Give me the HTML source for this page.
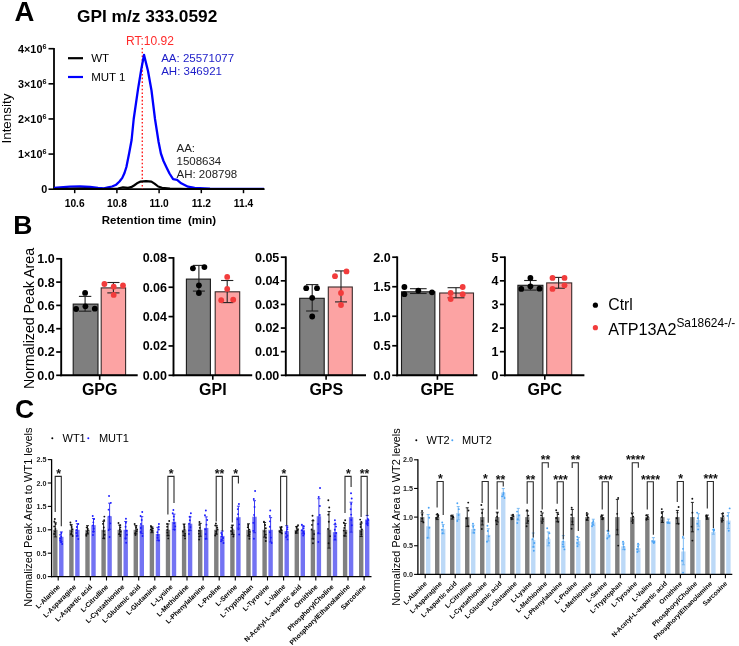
<!DOCTYPE html>
<html><head><meta charset="utf-8"><style>
html,body{margin:0;padding:0;background:#fff;width:739px;height:646px;overflow:hidden}
svg{display:block;filter:blur(0.3px)}
</style></head><body>
<svg width="739" height="646" viewBox="0 0 739 646" font-family="Liberation Sans, sans-serif">
<rect width="739" height="646" fill="#fff"/>
<text x="14.60" y="20.60" font-size="27.5" font-weight="bold" fill="#000" text-anchor="start" >A</text>
<text x="77.00" y="22.20" font-size="17.3" font-weight="bold" fill="#000" text-anchor="start" >GPI m/z 333.0592</text>
<line x1="54.00" y1="47.90" x2="54.00" y2="190.00" stroke="#000" stroke-width="1.8" />
<line x1="48.50" y1="189.20" x2="54.00" y2="189.20" stroke="#000" stroke-width="1.6" />
<text x="47.20" y="193.20" font-size="10.8" font-weight="bold" fill="#000" text-anchor="end" >0</text>
<line x1="48.50" y1="154.07" x2="54.00" y2="154.07" stroke="#000" stroke-width="1.6" />
<text x="46.4" y="158.07" font-size="10.8" font-weight="bold" text-anchor="end">1×10<tspan font-size="7.2" dy="-4.2">6</tspan></text>
<line x1="48.50" y1="118.95" x2="54.00" y2="118.95" stroke="#000" stroke-width="1.6" />
<text x="46.4" y="122.95" font-size="10.8" font-weight="bold" text-anchor="end">2×10<tspan font-size="7.2" dy="-4.2">6</tspan></text>
<line x1="48.50" y1="83.82" x2="54.00" y2="83.82" stroke="#000" stroke-width="1.6" />
<text x="46.4" y="87.82" font-size="10.8" font-weight="bold" text-anchor="end">3×10<tspan font-size="7.2" dy="-4.2">6</tspan></text>
<line x1="48.50" y1="48.70" x2="54.00" y2="48.70" stroke="#000" stroke-width="1.6" />
<text x="46.4" y="52.70" font-size="10.8" font-weight="bold" text-anchor="end">4×10<tspan font-size="7.2" dy="-4.2">6</tspan></text>
<line x1="53.40" y1="189.20" x2="264.60" y2="189.20" stroke="#000" stroke-width="1.8" />
<line x1="74.70" y1="189.20" x2="74.70" y2="193.20" stroke="#000" stroke-width="1.5" />
<text x="74.70" y="206.60" font-size="10.2" font-weight="bold" fill="#000" text-anchor="middle" >10.6</text>
<line x1="116.90" y1="189.20" x2="116.90" y2="193.20" stroke="#000" stroke-width="1.5" />
<text x="116.90" y="206.60" font-size="10.2" font-weight="bold" fill="#000" text-anchor="middle" >10.8</text>
<line x1="159.10" y1="189.20" x2="159.10" y2="193.20" stroke="#000" stroke-width="1.5" />
<text x="159.10" y="206.60" font-size="10.2" font-weight="bold" fill="#000" text-anchor="middle" >11.0</text>
<line x1="201.30" y1="189.20" x2="201.30" y2="193.20" stroke="#000" stroke-width="1.5" />
<text x="201.30" y="206.60" font-size="10.2" font-weight="bold" fill="#000" text-anchor="middle" >11.2</text>
<line x1="243.50" y1="189.20" x2="243.50" y2="193.20" stroke="#000" stroke-width="1.5" />
<text x="243.50" y="206.60" font-size="10.2" font-weight="bold" fill="#000" text-anchor="middle" >11.4</text>
<text x="101.70" y="223.70" font-size="11.5" font-weight="bold" fill="#000" text-anchor="start" xml:space="preserve">Retention time  (min)</text>
<text x="0.00" y="0.00" font-size="13.4"  fill="#000" text-anchor="middle" transform="translate(11.1,118.6) rotate(-90)">Intensity</text>
<line x1="68.00" y1="58.20" x2="83.00" y2="58.20" stroke="#000" stroke-width="2.2" />
<text x="91.20" y="62.30" font-size="11.5"  fill="#000" text-anchor="start" >WT</text>
<line x1="68.00" y1="77.00" x2="83.00" y2="77.00" stroke="#0000ff" stroke-width="2.2" />
<text x="91.20" y="80.80" font-size="11.5"  fill="#000" text-anchor="start" >MUT 1</text>
<line x1="142.30" y1="48.00" x2="142.30" y2="189.00" stroke="#ff2020" stroke-width="1.4" stroke-dasharray="1.6,2.1"/>
<text x="126.00" y="44.80" font-size="12"  fill="#ff2a2a" text-anchor="start" >RT:10.92</text>
<text x="161.20" y="61.80" font-size="11.5"  fill="#1c1cc8" text-anchor="start" >AA: 25571077</text>
<text x="161.20" y="75.10" font-size="11.5"  fill="#1c1cc8" text-anchor="start" >AH: 346921</text>
<text x="176.50" y="152.00" font-size="11.5"  fill="#222" text-anchor="start" >AA:</text>
<text x="176.50" y="165.00" font-size="11.5"  fill="#222" text-anchor="start" >1508634</text>
<text x="176.50" y="178.00" font-size="11.5"  fill="#222" text-anchor="start" >AH: 208798</text>
<polyline fill="none" stroke="#0000ff" stroke-width="2.3" stroke-linejoin="round" points="54,188 60,187.3 70,186.6 80,186.5 90,187 98,188 104,188.4 108.1,187.4 112,186.5 116.2,184.7 119.5,181.5 122.3,177.9 124.5,173 126.4,167 129.1,153.5 131.6,140 133.7,119 138.1,88.7 141.3,69.2 144,54.9 148,71 151.5,90.5 155,119 158.6,142 160.9,153.5 163.5,161 166.3,167 169.5,173.5 173.1,179.2 177.1,179.9 181.2,183.3 188,186.7 194.7,187.8 210,188.6 230,188.8 264,188.8"/>
<polyline fill="none" stroke="#000" stroke-width="2.2" stroke-linejoin="round" points="54,189 80,188.5 100,189 118,188.6 123,187.3 128,187.8 131.1,187.2 134,185.5 137,183.3 140.6,181.6 146,181.2 151.4,181.6 154.5,183.6 158.2,186.5 162,187.8 170,188.5 190,189 264,189"/>
<text x="13.20" y="234.40" font-size="26.5" font-weight="bold" fill="#000" text-anchor="start" >B</text>
<text x="0.00" y="0.00" font-size="14.2"  fill="#000" text-anchor="middle" transform="translate(34,318.5) rotate(-90)">Normalized Peak Area</text>
<rect x="73.20" y="304.10" width="24.80" height="71.20" fill="#7f7f7f" stroke="#1a1a1a" stroke-width="1.1"/>
<rect x="101.20" y="287.90" width="24.40" height="87.40" fill="#fca3a3" stroke="#3a2a2a" stroke-width="1.1"/>
<line x1="61.20" y1="258.00" x2="61.20" y2="376.20" stroke="#000" stroke-width="1.9" />
<line x1="56.20" y1="375.30" x2="61.20" y2="375.30" stroke="#000" stroke-width="1.7" />
<text x="54.70" y="379.70" font-size="12.5" font-weight="bold" fill="#000" text-anchor="end" >0.0</text>
<line x1="56.20" y1="352.00" x2="61.20" y2="352.00" stroke="#000" stroke-width="1.7" />
<text x="54.70" y="356.40" font-size="12.5" font-weight="bold" fill="#000" text-anchor="end" >0.2</text>
<line x1="56.20" y1="328.70" x2="61.20" y2="328.70" stroke="#000" stroke-width="1.7" />
<text x="54.70" y="333.10" font-size="12.5" font-weight="bold" fill="#000" text-anchor="end" >0.4</text>
<line x1="56.20" y1="305.40" x2="61.20" y2="305.40" stroke="#000" stroke-width="1.7" />
<text x="54.70" y="309.80" font-size="12.5" font-weight="bold" fill="#000" text-anchor="end" >0.6</text>
<line x1="56.20" y1="282.10" x2="61.20" y2="282.10" stroke="#000" stroke-width="1.7" />
<text x="54.70" y="286.50" font-size="12.5" font-weight="bold" fill="#000" text-anchor="end" >0.8</text>
<line x1="56.20" y1="258.80" x2="61.20" y2="258.80" stroke="#000" stroke-width="1.7" />
<text x="54.70" y="263.20" font-size="12.5" font-weight="bold" fill="#000" text-anchor="end" >1.0</text>
<line x1="60.30" y1="375.30" x2="137.70" y2="375.30" stroke="#000" stroke-width="1.9" />
<line x1="99.70" y1="375.30" x2="99.70" y2="379.80" stroke="#000" stroke-width="1.6" />
<text x="99.70" y="395.40" font-size="16" font-weight="bold" fill="#000" text-anchor="middle" >GPG</text>
<line x1="85.10" y1="296.40" x2="85.10" y2="311.20" stroke="#222" stroke-width="1.1" />
<line x1="78.90" y1="296.40" x2="91.30" y2="296.40" stroke="#222" stroke-width="1.1" />
<line x1="78.90" y1="311.20" x2="91.30" y2="311.20" stroke="#222" stroke-width="1.1" />
<line x1="113.40" y1="282.50" x2="113.40" y2="292.90" stroke="#222" stroke-width="1.1" />
<line x1="107.30" y1="282.50" x2="119.50" y2="282.50" stroke="#222" stroke-width="1.1" />
<line x1="107.30" y1="292.90" x2="119.50" y2="292.90" stroke="#222" stroke-width="1.1" />
<circle cx="85.10" cy="292.90" r="2.9" fill="#000"/>
<circle cx="76.10" cy="309.00" r="2.9" fill="#000"/>
<circle cx="85.40" cy="306.30" r="2.9" fill="#000"/>
<circle cx="94.80" cy="308.70" r="2.9" fill="#000"/>
<circle cx="104.40" cy="284.00" r="2.9" fill="#f23c3c"/>
<circle cx="113.70" cy="286.70" r="2.9" fill="#f23c3c"/>
<circle cx="123.00" cy="285.50" r="2.9" fill="#f23c3c"/>
<circle cx="113.70" cy="294.90" r="2.9" fill="#f23c3c"/>
<rect x="186.40" y="279.10" width="24.00" height="96.20" fill="#7f7f7f" stroke="#1a1a1a" stroke-width="1.1"/>
<rect x="215.20" y="291.80" width="24.50" height="83.50" fill="#fca3a3" stroke="#3a2a2a" stroke-width="1.1"/>
<line x1="173.50" y1="257.10" x2="173.50" y2="376.20" stroke="#000" stroke-width="1.9" />
<line x1="168.50" y1="375.30" x2="173.50" y2="375.30" stroke="#000" stroke-width="1.7" />
<text x="167.00" y="379.70" font-size="12.5" font-weight="bold" fill="#000" text-anchor="end" >0.00</text>
<line x1="168.50" y1="345.95" x2="173.50" y2="345.95" stroke="#000" stroke-width="1.7" />
<text x="167.00" y="350.35" font-size="12.5" font-weight="bold" fill="#000" text-anchor="end" >0.02</text>
<line x1="168.50" y1="316.60" x2="173.50" y2="316.60" stroke="#000" stroke-width="1.7" />
<text x="167.00" y="321.00" font-size="12.5" font-weight="bold" fill="#000" text-anchor="end" >0.04</text>
<line x1="168.50" y1="287.25" x2="173.50" y2="287.25" stroke="#000" stroke-width="1.7" />
<text x="167.00" y="291.65" font-size="12.5" font-weight="bold" fill="#000" text-anchor="end" >0.06</text>
<line x1="168.50" y1="257.90" x2="173.50" y2="257.90" stroke="#000" stroke-width="1.7" />
<text x="167.00" y="262.30" font-size="12.5" font-weight="bold" fill="#000" text-anchor="end" >0.08</text>
<line x1="172.60" y1="375.30" x2="252.20" y2="375.30" stroke="#000" stroke-width="1.9" />
<line x1="212.80" y1="375.30" x2="212.80" y2="379.80" stroke="#000" stroke-width="1.6" />
<text x="212.80" y="395.40" font-size="16" font-weight="bold" fill="#000" text-anchor="middle" >GPI</text>
<line x1="198.90" y1="265.40" x2="198.90" y2="291.10" stroke="#222" stroke-width="1.1" />
<line x1="192.90" y1="265.40" x2="204.90" y2="265.40" stroke="#222" stroke-width="1.1" />
<line x1="192.90" y1="291.10" x2="204.90" y2="291.10" stroke="#222" stroke-width="1.1" />
<line x1="227.20" y1="280.50" x2="227.20" y2="302.60" stroke="#222" stroke-width="1.1" />
<line x1="221.07" y1="280.50" x2="233.32" y2="280.50" stroke="#222" stroke-width="1.1" />
<line x1="221.07" y1="302.60" x2="233.32" y2="302.60" stroke="#222" stroke-width="1.1" />
<circle cx="192.90" cy="268.30" r="2.9" fill="#000"/>
<circle cx="204.40" cy="267.10" r="2.9" fill="#000"/>
<circle cx="198.90" cy="285.30" r="2.9" fill="#000"/>
<circle cx="198.90" cy="293.00" r="2.9" fill="#000"/>
<circle cx="227.20" cy="276.90" r="2.9" fill="#f23c3c"/>
<circle cx="227.20" cy="288.90" r="2.9" fill="#f23c3c"/>
<circle cx="221.20" cy="300.20" r="2.9" fill="#f23c3c"/>
<circle cx="233.20" cy="299.70" r="2.9" fill="#f23c3c"/>
<rect x="299.70" y="298.30" width="24.50" height="77.00" fill="#7f7f7f" stroke="#1a1a1a" stroke-width="1.1"/>
<rect x="328.30" y="287.00" width="24.00" height="88.30" fill="#fca3a3" stroke="#3a2a2a" stroke-width="1.1"/>
<line x1="285.80" y1="256.40" x2="285.80" y2="376.20" stroke="#000" stroke-width="1.9" />
<line x1="280.80" y1="375.30" x2="285.80" y2="375.30" stroke="#000" stroke-width="1.7" />
<text x="279.30" y="379.70" font-size="12.5" font-weight="bold" fill="#000" text-anchor="end" >0.00</text>
<line x1="280.80" y1="351.68" x2="285.80" y2="351.68" stroke="#000" stroke-width="1.7" />
<text x="279.30" y="356.08" font-size="12.5" font-weight="bold" fill="#000" text-anchor="end" >0.01</text>
<line x1="280.80" y1="328.06" x2="285.80" y2="328.06" stroke="#000" stroke-width="1.7" />
<text x="279.30" y="332.46" font-size="12.5" font-weight="bold" fill="#000" text-anchor="end" >0.02</text>
<line x1="280.80" y1="304.44" x2="285.80" y2="304.44" stroke="#000" stroke-width="1.7" />
<text x="279.30" y="308.84" font-size="12.5" font-weight="bold" fill="#000" text-anchor="end" >0.03</text>
<line x1="280.80" y1="280.82" x2="285.80" y2="280.82" stroke="#000" stroke-width="1.7" />
<text x="279.30" y="285.22" font-size="12.5" font-weight="bold" fill="#000" text-anchor="end" >0.04</text>
<line x1="280.80" y1="257.20" x2="285.80" y2="257.20" stroke="#000" stroke-width="1.7" />
<text x="279.30" y="261.60" font-size="12.5" font-weight="bold" fill="#000" text-anchor="end" >0.05</text>
<line x1="284.90" y1="375.30" x2="366.00" y2="375.30" stroke="#000" stroke-width="1.9" />
<line x1="326.10" y1="375.30" x2="326.10" y2="379.80" stroke="#000" stroke-width="1.6" />
<text x="326.30" y="395.40" font-size="16" font-weight="bold" fill="#000" text-anchor="middle" >GPS</text>
<line x1="312.20" y1="284.60" x2="312.20" y2="311.00" stroke="#222" stroke-width="1.1" />
<line x1="306.07" y1="284.60" x2="318.32" y2="284.60" stroke="#222" stroke-width="1.1" />
<line x1="306.07" y1="311.00" x2="318.32" y2="311.00" stroke="#222" stroke-width="1.1" />
<line x1="341.00" y1="270.90" x2="341.00" y2="301.90" stroke="#222" stroke-width="1.1" />
<line x1="335.00" y1="270.90" x2="347.00" y2="270.90" stroke="#222" stroke-width="1.1" />
<line x1="335.00" y1="301.90" x2="347.00" y2="301.90" stroke="#222" stroke-width="1.1" />
<circle cx="306.20" cy="288.20" r="2.9" fill="#000"/>
<circle cx="317.00" cy="288.20" r="2.9" fill="#000"/>
<circle cx="312.20" cy="297.80" r="2.9" fill="#000"/>
<circle cx="312.20" cy="316.50" r="2.9" fill="#000"/>
<circle cx="335.00" cy="276.20" r="2.9" fill="#f23c3c"/>
<circle cx="346.50" cy="271.40" r="2.9" fill="#f23c3c"/>
<circle cx="341.00" cy="293.00" r="2.9" fill="#f23c3c"/>
<circle cx="341.00" cy="305.00" r="2.9" fill="#f23c3c"/>
<rect x="401.50" y="291.80" width="33.40" height="83.50" fill="#7f7f7f" stroke="#1a1a1a" stroke-width="1.1"/>
<rect x="439.70" y="293.00" width="33.80" height="82.30" fill="#fca3a3" stroke="#3a2a2a" stroke-width="1.1"/>
<line x1="397.20" y1="256.40" x2="397.20" y2="376.20" stroke="#000" stroke-width="1.9" />
<line x1="392.20" y1="375.30" x2="397.20" y2="375.30" stroke="#000" stroke-width="1.7" />
<text x="390.70" y="379.70" font-size="12.5" font-weight="bold" fill="#000" text-anchor="end" >0.0</text>
<line x1="392.20" y1="345.77" x2="397.20" y2="345.77" stroke="#000" stroke-width="1.7" />
<text x="390.70" y="350.17" font-size="12.5" font-weight="bold" fill="#000" text-anchor="end" >0.5</text>
<line x1="392.20" y1="316.25" x2="397.20" y2="316.25" stroke="#000" stroke-width="1.7" />
<text x="390.70" y="320.65" font-size="12.5" font-weight="bold" fill="#000" text-anchor="end" >1.0</text>
<line x1="392.20" y1="286.73" x2="397.20" y2="286.73" stroke="#000" stroke-width="1.7" />
<text x="390.70" y="291.12" font-size="12.5" font-weight="bold" fill="#000" text-anchor="end" >1.5</text>
<line x1="392.20" y1="257.20" x2="397.20" y2="257.20" stroke="#000" stroke-width="1.7" />
<text x="390.70" y="261.60" font-size="12.5" font-weight="bold" fill="#000" text-anchor="end" >2.0</text>
<line x1="396.30" y1="375.30" x2="477.40" y2="375.30" stroke="#000" stroke-width="1.9" />
<line x1="437.40" y1="375.30" x2="437.40" y2="379.80" stroke="#000" stroke-width="1.6" />
<text x="437.40" y="395.40" font-size="16" font-weight="bold" fill="#000" text-anchor="middle" >GPE</text>
<line x1="418.30" y1="288.70" x2="418.30" y2="293.50" stroke="#222" stroke-width="1.1" />
<line x1="409.95" y1="288.70" x2="426.65" y2="288.70" stroke="#222" stroke-width="1.1" />
<line x1="409.95" y1="293.50" x2="426.65" y2="293.50" stroke="#222" stroke-width="1.1" />
<line x1="456.00" y1="287.70" x2="456.00" y2="297.80" stroke="#222" stroke-width="1.1" />
<line x1="447.55" y1="287.70" x2="464.45" y2="287.70" stroke="#222" stroke-width="1.1" />
<line x1="447.55" y1="297.80" x2="464.45" y2="297.80" stroke="#222" stroke-width="1.1" />
<circle cx="404.40" cy="287.00" r="2.9" fill="#000"/>
<circle cx="404.40" cy="294.20" r="2.9" fill="#000"/>
<circle cx="418.30" cy="290.60" r="2.9" fill="#000"/>
<circle cx="432.00" cy="292.30" r="2.9" fill="#000"/>
<circle cx="450.70" cy="293.00" r="2.9" fill="#f23c3c"/>
<circle cx="462.70" cy="287.00" r="2.9" fill="#f23c3c"/>
<circle cx="462.70" cy="294.20" r="2.9" fill="#f23c3c"/>
<circle cx="450.70" cy="299.00" r="2.9" fill="#f23c3c"/>
<rect x="517.90" y="285.30" width="25.00" height="90.00" fill="#7f7f7f" stroke="#1a1a1a" stroke-width="1.1"/>
<rect x="546.70" y="282.90" width="25.00" height="92.40" fill="#fca3a3" stroke="#3a2a2a" stroke-width="1.1"/>
<line x1="504.90" y1="256.40" x2="504.90" y2="376.20" stroke="#000" stroke-width="1.9" />
<line x1="499.90" y1="375.30" x2="504.90" y2="375.30" stroke="#000" stroke-width="1.7" />
<text x="498.40" y="379.70" font-size="12.5" font-weight="bold" fill="#000" text-anchor="end" >0</text>
<line x1="499.90" y1="351.68" x2="504.90" y2="351.68" stroke="#000" stroke-width="1.7" />
<text x="498.40" y="356.08" font-size="12.5" font-weight="bold" fill="#000" text-anchor="end" >1</text>
<line x1="499.90" y1="328.06" x2="504.90" y2="328.06" stroke="#000" stroke-width="1.7" />
<text x="498.40" y="332.46" font-size="12.5" font-weight="bold" fill="#000" text-anchor="end" >2</text>
<line x1="499.90" y1="304.44" x2="504.90" y2="304.44" stroke="#000" stroke-width="1.7" />
<text x="498.40" y="308.84" font-size="12.5" font-weight="bold" fill="#000" text-anchor="end" >3</text>
<line x1="499.90" y1="280.82" x2="504.90" y2="280.82" stroke="#000" stroke-width="1.7" />
<text x="498.40" y="285.22" font-size="12.5" font-weight="bold" fill="#000" text-anchor="end" >4</text>
<line x1="499.90" y1="257.20" x2="504.90" y2="257.20" stroke="#000" stroke-width="1.7" />
<text x="498.40" y="261.60" font-size="12.5" font-weight="bold" fill="#000" text-anchor="end" >5</text>
<line x1="504.00" y1="375.30" x2="584.40" y2="375.30" stroke="#000" stroke-width="1.9" />
<line x1="544.80" y1="375.30" x2="544.80" y2="379.80" stroke="#000" stroke-width="1.6" />
<text x="544.80" y="395.40" font-size="16" font-weight="bold" fill="#000" text-anchor="middle" >GPC</text>
<line x1="530.40" y1="280.50" x2="530.40" y2="290.10" stroke="#222" stroke-width="1.1" />
<line x1="524.15" y1="280.50" x2="536.65" y2="280.50" stroke="#222" stroke-width="1.1" />
<line x1="524.15" y1="290.10" x2="536.65" y2="290.10" stroke="#222" stroke-width="1.1" />
<line x1="558.60" y1="277.40" x2="558.60" y2="288.20" stroke="#222" stroke-width="1.1" />
<line x1="552.35" y1="277.40" x2="564.85" y2="277.40" stroke="#222" stroke-width="1.1" />
<line x1="552.35" y1="288.20" x2="564.85" y2="288.20" stroke="#222" stroke-width="1.1" />
<circle cx="530.40" cy="277.90" r="2.9" fill="#000"/>
<circle cx="521.30" cy="288.90" r="2.9" fill="#000"/>
<circle cx="530.40" cy="286.30" r="2.9" fill="#000"/>
<circle cx="539.50" cy="288.70" r="2.9" fill="#000"/>
<circle cx="552.50" cy="277.90" r="2.9" fill="#f23c3c"/>
<circle cx="564.50" cy="277.90" r="2.9" fill="#f23c3c"/>
<circle cx="552.50" cy="288.90" r="2.9" fill="#f23c3c"/>
<circle cx="564.50" cy="285.30" r="2.9" fill="#f23c3c"/>
<circle cx="595.40" cy="305.20" r="2.6" fill="#000"/>
<text x="608.30" y="310.20" font-size="15.8"  fill="#000" text-anchor="start" >Ctrl</text>
<circle cx="595.40" cy="327.70" r="2.6" fill="#f23c3c"/>
<text x="608.3" y="334.6" font-size="16.2">ATP13A2<tspan font-size="11.9" dy="-8">Sa18624-/-</tspan></text>
<text x="15.00" y="417.60" font-size="26.5" font-weight="bold" fill="#000" text-anchor="start" >C</text>
<text x="0.00" y="0.00" font-size="11"  fill="#000" text-anchor="middle" transform="translate(31.7,517.1) rotate(-90)">Normalized Peak Area to WT1 levels</text>
<circle cx="52.30" cy="438.30" r="1.0" fill="#000"/>
<text x="62.50" y="442.20" font-size="11"  fill="#000" text-anchor="start" >WT1</text>
<circle cx="88.30" cy="438.30" r="1.0" fill="#1a1aff"/>
<text x="98.90" y="442.20" font-size="11"  fill="#000" text-anchor="start" >MUT1</text>
<rect x="53.10" y="529.80" width="4.40" height="46.80" fill="#808080" stroke="none" stroke-width="0"/>
<rect x="59.10" y="536.82" width="4.40" height="39.78" fill="#7373f3" stroke="none" stroke-width="0"/>
<line x1="55.30" y1="522.72" x2="55.30" y2="536.88" stroke="#111" stroke-width="0.9" />
<line x1="53.80" y1="522.72" x2="56.80" y2="522.72" stroke="#111" stroke-width="0.9" />
<line x1="53.80" y1="536.88" x2="56.80" y2="536.88" stroke="#111" stroke-width="0.9" />
<circle cx="54.84" cy="519.00" r="0.95" fill="#111"/>
<circle cx="54.39" cy="521.50" r="0.95" fill="#111"/>
<circle cx="55.69" cy="524.00" r="0.95" fill="#111"/>
<circle cx="54.19" cy="526.50" r="0.95" fill="#111"/>
<circle cx="55.39" cy="529.00" r="0.95" fill="#111"/>
<circle cx="54.95" cy="531.50" r="0.95" fill="#111"/>
<circle cx="54.15" cy="534.00" r="0.95" fill="#111"/>
<line x1="61.30" y1="531.91" x2="61.30" y2="541.73" stroke="#2626f0" stroke-width="0.9" />
<line x1="59.80" y1="531.91" x2="62.80" y2="531.91" stroke="#2626f0" stroke-width="0.9" />
<line x1="59.80" y1="541.73" x2="62.80" y2="541.73" stroke="#2626f0" stroke-width="0.9" />
<circle cx="61.32" cy="533.00" r="0.95" fill="#1a1aff"/>
<circle cx="60.10" cy="534.83" r="0.95" fill="#1a1aff"/>
<circle cx="61.13" cy="536.67" r="0.95" fill="#1a1aff"/>
<circle cx="60.18" cy="538.50" r="0.95" fill="#1a1aff"/>
<circle cx="60.24" cy="540.33" r="0.95" fill="#1a1aff"/>
<circle cx="61.10" cy="542.17" r="0.95" fill="#1a1aff"/>
<circle cx="62.15" cy="544.00" r="0.95" fill="#1a1aff"/>
<line x1="58.20" y1="576.60" x2="58.20" y2="580.50" stroke="#000" stroke-width="1.1" />
<text x="0.00" y="0.00" font-size="6.8" font-weight="bold" fill="#000" text-anchor="end" transform="translate(60.50,587.20) rotate(-45)">L-Alanine</text>
<polyline fill="none" stroke="#2a2a2a" stroke-width="1.1" stroke-linejoin="miter" points="55.20,512 55.20,476.4 61.30,476.4 61.30,526.2"/>
<text x="58.55" y="478.10" font-size="12.3" font-weight="bold" fill="#111" text-anchor="middle" >*</text>
<rect x="69.20" y="529.80" width="4.40" height="46.80" fill="#808080" stroke="none" stroke-width="0"/>
<rect x="75.20" y="529.80" width="4.40" height="46.80" fill="#7373f3" stroke="none" stroke-width="0"/>
<line x1="71.40" y1="524.82" x2="71.40" y2="534.78" stroke="#111" stroke-width="0.9" />
<line x1="69.90" y1="524.82" x2="72.90" y2="524.82" stroke="#111" stroke-width="0.9" />
<line x1="69.90" y1="534.78" x2="72.90" y2="534.78" stroke="#111" stroke-width="0.9" />
<circle cx="70.42" cy="522.50" r="0.95" fill="#111"/>
<circle cx="70.68" cy="524.75" r="0.95" fill="#111"/>
<circle cx="71.73" cy="527.00" r="0.95" fill="#111"/>
<circle cx="72.56" cy="529.25" r="0.95" fill="#111"/>
<circle cx="71.60" cy="531.50" r="0.95" fill="#111"/>
<circle cx="71.13" cy="533.75" r="0.95" fill="#111"/>
<circle cx="72.64" cy="536.00" r="0.95" fill="#111"/>
<line x1="77.40" y1="523.68" x2="77.40" y2="535.92" stroke="#2626f0" stroke-width="0.9" />
<line x1="75.90" y1="523.68" x2="78.90" y2="523.68" stroke="#2626f0" stroke-width="0.9" />
<line x1="75.90" y1="535.92" x2="78.90" y2="535.92" stroke="#2626f0" stroke-width="0.9" />
<circle cx="76.22" cy="521.00" r="0.95" fill="#1a1aff"/>
<circle cx="78.33" cy="524.00" r="0.95" fill="#1a1aff"/>
<circle cx="76.85" cy="527.00" r="0.95" fill="#1a1aff"/>
<circle cx="76.48" cy="530.00" r="0.95" fill="#1a1aff"/>
<circle cx="76.41" cy="533.00" r="0.95" fill="#1a1aff"/>
<circle cx="76.90" cy="536.00" r="0.95" fill="#1a1aff"/>
<circle cx="78.22" cy="539.00" r="0.95" fill="#1a1aff"/>
<line x1="74.30" y1="576.60" x2="74.30" y2="580.50" stroke="#000" stroke-width="1.1" />
<text x="0.00" y="0.00" font-size="6.8" font-weight="bold" fill="#000" text-anchor="end" transform="translate(76.60,587.20) rotate(-45)">L-Asparagine</text>
<rect x="85.30" y="529.80" width="4.40" height="46.80" fill="#808080" stroke="none" stroke-width="0"/>
<rect x="91.30" y="525.12" width="4.40" height="51.48" fill="#7373f3" stroke="none" stroke-width="0"/>
<line x1="87.50" y1="525.66" x2="87.50" y2="533.94" stroke="#111" stroke-width="0.9" />
<line x1="86.00" y1="525.66" x2="89.00" y2="525.66" stroke="#111" stroke-width="0.9" />
<line x1="86.00" y1="533.94" x2="89.00" y2="533.94" stroke="#111" stroke-width="0.9" />
<circle cx="86.67" cy="527.40" r="0.95" fill="#111"/>
<circle cx="87.71" cy="528.78" r="0.95" fill="#111"/>
<circle cx="87.86" cy="530.17" r="0.95" fill="#111"/>
<circle cx="87.17" cy="531.55" r="0.95" fill="#111"/>
<circle cx="87.62" cy="532.93" r="0.95" fill="#111"/>
<circle cx="86.36" cy="534.32" r="0.95" fill="#111"/>
<circle cx="86.35" cy="535.70" r="0.95" fill="#111"/>
<line x1="93.50" y1="518.59" x2="93.50" y2="531.65" stroke="#2626f0" stroke-width="0.9" />
<line x1="92.00" y1="518.59" x2="95.00" y2="518.59" stroke="#2626f0" stroke-width="0.9" />
<line x1="92.00" y1="531.65" x2="95.00" y2="531.65" stroke="#2626f0" stroke-width="0.9" />
<circle cx="92.74" cy="516.00" r="0.95" fill="#1a1aff"/>
<circle cx="93.97" cy="519.17" r="0.95" fill="#1a1aff"/>
<circle cx="93.31" cy="522.33" r="0.95" fill="#1a1aff"/>
<circle cx="93.02" cy="525.50" r="0.95" fill="#1a1aff"/>
<circle cx="93.72" cy="528.67" r="0.95" fill="#1a1aff"/>
<circle cx="93.38" cy="531.83" r="0.95" fill="#1a1aff"/>
<circle cx="92.98" cy="535.00" r="0.95" fill="#1a1aff"/>
<line x1="90.40" y1="576.60" x2="90.40" y2="580.50" stroke="#000" stroke-width="1.1" />
<text x="0.00" y="0.00" font-size="6.8" font-weight="bold" fill="#000" text-anchor="end" transform="translate(92.70,587.20) rotate(-45)">L-Aspartic acid</text>
<rect x="101.40" y="529.80" width="4.40" height="46.80" fill="#808080" stroke="none" stroke-width="0"/>
<rect x="107.40" y="516.23" width="4.40" height="60.37" fill="#7373f3" stroke="none" stroke-width="0"/>
<line x1="103.60" y1="521.28" x2="103.60" y2="538.32" stroke="#111" stroke-width="0.9" />
<line x1="102.10" y1="521.28" x2="105.10" y2="521.28" stroke="#111" stroke-width="0.9" />
<line x1="102.10" y1="538.32" x2="105.10" y2="538.32" stroke="#111" stroke-width="0.9" />
<circle cx="104.37" cy="516.60" r="0.95" fill="#111"/>
<circle cx="104.12" cy="520.23" r="0.95" fill="#111"/>
<circle cx="102.93" cy="523.87" r="0.95" fill="#111"/>
<circle cx="103.79" cy="527.50" r="0.95" fill="#111"/>
<circle cx="103.67" cy="531.13" r="0.95" fill="#111"/>
<circle cx="104.58" cy="534.77" r="0.95" fill="#111"/>
<circle cx="104.20" cy="538.40" r="0.95" fill="#111"/>
<line x1="109.60" y1="503.16" x2="109.60" y2="529.29" stroke="#2626f0" stroke-width="0.9" />
<line x1="108.10" y1="503.16" x2="111.10" y2="503.16" stroke="#2626f0" stroke-width="0.9" />
<line x1="108.10" y1="529.29" x2="111.10" y2="529.29" stroke="#2626f0" stroke-width="0.9" />
<circle cx="109.05" cy="496.00" r="0.95" fill="#1a1aff"/>
<circle cx="110.85" cy="502.83" r="0.95" fill="#1a1aff"/>
<circle cx="108.61" cy="509.67" r="0.95" fill="#1a1aff"/>
<circle cx="109.39" cy="516.50" r="0.95" fill="#1a1aff"/>
<circle cx="110.27" cy="523.33" r="0.95" fill="#1a1aff"/>
<circle cx="108.70" cy="530.17" r="0.95" fill="#1a1aff"/>
<circle cx="109.57" cy="537.00" r="0.95" fill="#1a1aff"/>
<line x1="106.50" y1="576.60" x2="106.50" y2="580.50" stroke="#000" stroke-width="1.1" />
<text x="0.00" y="0.00" font-size="6.8" font-weight="bold" fill="#000" text-anchor="end" transform="translate(108.80,587.20) rotate(-45)">L-Citrulline</text>
<rect x="117.50" y="529.80" width="4.40" height="46.80" fill="#808080" stroke="none" stroke-width="0"/>
<rect x="123.50" y="529.80" width="4.40" height="46.80" fill="#7373f3" stroke="none" stroke-width="0"/>
<line x1="119.70" y1="525.12" x2="119.70" y2="534.48" stroke="#111" stroke-width="0.9" />
<line x1="118.20" y1="525.12" x2="121.20" y2="525.12" stroke="#111" stroke-width="0.9" />
<line x1="118.20" y1="534.48" x2="121.20" y2="534.48" stroke="#111" stroke-width="0.9" />
<circle cx="118.50" cy="523.00" r="0.95" fill="#111"/>
<circle cx="120.14" cy="525.17" r="0.95" fill="#111"/>
<circle cx="120.39" cy="527.33" r="0.95" fill="#111"/>
<circle cx="119.89" cy="529.50" r="0.95" fill="#111"/>
<circle cx="120.68" cy="531.67" r="0.95" fill="#111"/>
<circle cx="119.22" cy="533.83" r="0.95" fill="#111"/>
<circle cx="120.21" cy="536.00" r="0.95" fill="#111"/>
<line x1="125.70" y1="521.46" x2="125.70" y2="538.14" stroke="#2626f0" stroke-width="0.9" />
<line x1="124.20" y1="521.46" x2="127.20" y2="521.46" stroke="#2626f0" stroke-width="0.9" />
<line x1="124.20" y1="538.14" x2="127.20" y2="538.14" stroke="#2626f0" stroke-width="0.9" />
<circle cx="125.95" cy="518.70" r="0.95" fill="#1a1aff"/>
<circle cx="125.91" cy="522.70" r="0.95" fill="#1a1aff"/>
<circle cx="125.59" cy="526.70" r="0.95" fill="#1a1aff"/>
<circle cx="126.58" cy="530.70" r="0.95" fill="#1a1aff"/>
<circle cx="126.86" cy="534.70" r="0.95" fill="#1a1aff"/>
<circle cx="125.63" cy="538.70" r="0.95" fill="#1a1aff"/>
<circle cx="126.13" cy="542.70" r="0.95" fill="#1a1aff"/>
<line x1="122.60" y1="576.60" x2="122.60" y2="580.50" stroke="#000" stroke-width="1.1" />
<text x="0.00" y="0.00" font-size="6.8" font-weight="bold" fill="#000" text-anchor="end" transform="translate(124.90,587.20) rotate(-45)">L-Cystathionine</text>
<rect x="133.60" y="529.80" width="4.40" height="46.80" fill="#808080" stroke="none" stroke-width="0"/>
<rect x="139.60" y="525.12" width="4.40" height="51.48" fill="#7373f3" stroke="none" stroke-width="0"/>
<line x1="135.80" y1="525.72" x2="135.80" y2="533.88" stroke="#111" stroke-width="0.9" />
<line x1="134.30" y1="525.72" x2="137.30" y2="525.72" stroke="#111" stroke-width="0.9" />
<line x1="134.30" y1="533.88" x2="137.30" y2="533.88" stroke="#111" stroke-width="0.9" />
<circle cx="134.66" cy="524.00" r="0.95" fill="#111"/>
<circle cx="136.32" cy="525.83" r="0.95" fill="#111"/>
<circle cx="136.18" cy="527.67" r="0.95" fill="#111"/>
<circle cx="137.08" cy="529.50" r="0.95" fill="#111"/>
<circle cx="136.64" cy="531.33" r="0.95" fill="#111"/>
<circle cx="135.24" cy="533.17" r="0.95" fill="#111"/>
<circle cx="135.50" cy="535.00" r="0.95" fill="#111"/>
<line x1="141.80" y1="516.65" x2="141.80" y2="533.59" stroke="#2626f0" stroke-width="0.9" />
<line x1="140.30" y1="516.65" x2="143.30" y2="516.65" stroke="#2626f0" stroke-width="0.9" />
<line x1="140.30" y1="533.59" x2="143.30" y2="533.59" stroke="#2626f0" stroke-width="0.9" />
<circle cx="142.24" cy="512.00" r="0.95" fill="#1a1aff"/>
<circle cx="140.56" cy="516.00" r="0.95" fill="#1a1aff"/>
<circle cx="141.70" cy="520.00" r="0.95" fill="#1a1aff"/>
<circle cx="140.94" cy="524.00" r="0.95" fill="#1a1aff"/>
<circle cx="140.80" cy="528.00" r="0.95" fill="#1a1aff"/>
<circle cx="140.65" cy="532.00" r="0.95" fill="#1a1aff"/>
<circle cx="142.50" cy="536.00" r="0.95" fill="#1a1aff"/>
<line x1="138.70" y1="576.60" x2="138.70" y2="580.50" stroke="#000" stroke-width="1.1" />
<text x="0.00" y="0.00" font-size="6.8" font-weight="bold" fill="#000" text-anchor="end" transform="translate(141.00,587.20) rotate(-45)">L-Glutamic acid</text>
<rect x="149.70" y="529.80" width="4.40" height="46.80" fill="#808080" stroke="none" stroke-width="0"/>
<rect x="155.70" y="534.01" width="4.40" height="42.59" fill="#7373f3" stroke="none" stroke-width="0"/>
<line x1="151.90" y1="526.92" x2="151.90" y2="532.68" stroke="#111" stroke-width="0.9" />
<line x1="150.40" y1="526.92" x2="153.40" y2="526.92" stroke="#111" stroke-width="0.9" />
<line x1="150.40" y1="532.68" x2="153.40" y2="532.68" stroke="#111" stroke-width="0.9" />
<circle cx="150.94" cy="526.00" r="0.95" fill="#111"/>
<circle cx="151.24" cy="526.83" r="0.95" fill="#111"/>
<circle cx="151.62" cy="527.67" r="0.95" fill="#111"/>
<circle cx="152.87" cy="528.50" r="0.95" fill="#111"/>
<circle cx="150.81" cy="529.33" r="0.95" fill="#111"/>
<circle cx="151.77" cy="530.17" r="0.95" fill="#111"/>
<circle cx="152.03" cy="531.00" r="0.95" fill="#111"/>
<line x1="157.90" y1="527.40" x2="157.90" y2="540.62" stroke="#2626f0" stroke-width="0.9" />
<line x1="156.40" y1="527.40" x2="159.40" y2="527.40" stroke="#2626f0" stroke-width="0.9" />
<line x1="156.40" y1="540.62" x2="159.40" y2="540.62" stroke="#2626f0" stroke-width="0.9" />
<circle cx="158.90" cy="524.00" r="0.95" fill="#1a1aff"/>
<circle cx="158.73" cy="526.75" r="0.95" fill="#1a1aff"/>
<circle cx="158.85" cy="529.50" r="0.95" fill="#1a1aff"/>
<circle cx="157.32" cy="532.25" r="0.95" fill="#1a1aff"/>
<circle cx="157.68" cy="535.00" r="0.95" fill="#1a1aff"/>
<circle cx="157.53" cy="537.75" r="0.95" fill="#1a1aff"/>
<circle cx="158.90" cy="540.50" r="0.95" fill="#1a1aff"/>
<line x1="154.80" y1="576.60" x2="154.80" y2="580.50" stroke="#000" stroke-width="1.1" />
<text x="0.00" y="0.00" font-size="6.8" font-weight="bold" fill="#000" text-anchor="end" transform="translate(157.10,587.20) rotate(-45)">L-Glutamine</text>
<rect x="165.80" y="529.80" width="4.40" height="46.80" fill="#808080" stroke="none" stroke-width="0"/>
<rect x="171.80" y="521.84" width="4.40" height="54.76" fill="#7373f3" stroke="none" stroke-width="0"/>
<line x1="168.00" y1="523.92" x2="168.00" y2="535.68" stroke="#111" stroke-width="0.9" />
<line x1="166.50" y1="523.92" x2="169.50" y2="523.92" stroke="#111" stroke-width="0.9" />
<line x1="166.50" y1="535.68" x2="169.50" y2="535.68" stroke="#111" stroke-width="0.9" />
<circle cx="169.19" cy="521.00" r="0.95" fill="#111"/>
<circle cx="167.09" cy="523.90" r="0.95" fill="#111"/>
<circle cx="167.16" cy="526.80" r="0.95" fill="#111"/>
<circle cx="167.30" cy="529.70" r="0.95" fill="#111"/>
<circle cx="167.31" cy="532.60" r="0.95" fill="#111"/>
<circle cx="167.96" cy="535.50" r="0.95" fill="#111"/>
<circle cx="168.23" cy="538.40" r="0.95" fill="#111"/>
<line x1="174.00" y1="514.14" x2="174.00" y2="529.55" stroke="#2626f0" stroke-width="0.9" />
<line x1="172.50" y1="514.14" x2="175.50" y2="514.14" stroke="#2626f0" stroke-width="0.9" />
<line x1="172.50" y1="529.55" x2="175.50" y2="529.55" stroke="#2626f0" stroke-width="0.9" />
<circle cx="173.38" cy="510.00" r="0.95" fill="#1a1aff"/>
<circle cx="172.71" cy="513.28" r="0.95" fill="#1a1aff"/>
<circle cx="173.79" cy="516.57" r="0.95" fill="#1a1aff"/>
<circle cx="173.66" cy="519.85" r="0.95" fill="#1a1aff"/>
<circle cx="174.17" cy="523.13" r="0.95" fill="#1a1aff"/>
<circle cx="175.18" cy="526.42" r="0.95" fill="#1a1aff"/>
<circle cx="174.50" cy="529.70" r="0.95" fill="#1a1aff"/>
<line x1="170.90" y1="576.60" x2="170.90" y2="580.50" stroke="#000" stroke-width="1.1" />
<text x="0.00" y="0.00" font-size="6.8" font-weight="bold" fill="#000" text-anchor="end" transform="translate(173.20,587.20) rotate(-45)">L-Lysine</text>
<polyline fill="none" stroke="#2a2a2a" stroke-width="1.1" stroke-linejoin="miter" points="167.90,514.6 167.90,476.4 174.00,476.4 174.00,503"/>
<text x="171.25" y="478.10" font-size="12.3" font-weight="bold" fill="#111" text-anchor="middle" >*</text>
<rect x="181.90" y="529.80" width="4.40" height="46.80" fill="#808080" stroke="none" stroke-width="0"/>
<rect x="187.90" y="523.72" width="4.40" height="52.88" fill="#7373f3" stroke="none" stroke-width="0"/>
<line x1="184.10" y1="524.04" x2="184.10" y2="535.56" stroke="#111" stroke-width="0.9" />
<line x1="182.60" y1="524.04" x2="185.60" y2="524.04" stroke="#111" stroke-width="0.9" />
<line x1="182.60" y1="535.56" x2="185.60" y2="535.56" stroke="#111" stroke-width="0.9" />
<circle cx="184.14" cy="524.70" r="0.95" fill="#111"/>
<circle cx="184.41" cy="526.98" r="0.95" fill="#111"/>
<circle cx="184.56" cy="529.27" r="0.95" fill="#111"/>
<circle cx="182.94" cy="531.55" r="0.95" fill="#111"/>
<circle cx="185.14" cy="533.83" r="0.95" fill="#111"/>
<circle cx="184.83" cy="536.12" r="0.95" fill="#111"/>
<circle cx="185.07" cy="538.40" r="0.95" fill="#111"/>
<line x1="190.10" y1="516.87" x2="190.10" y2="530.57" stroke="#2626f0" stroke-width="0.9" />
<line x1="188.60" y1="516.87" x2="191.60" y2="516.87" stroke="#2626f0" stroke-width="0.9" />
<line x1="188.60" y1="530.57" x2="191.60" y2="530.57" stroke="#2626f0" stroke-width="0.9" />
<circle cx="190.87" cy="513.30" r="0.95" fill="#1a1aff"/>
<circle cx="189.82" cy="516.75" r="0.95" fill="#1a1aff"/>
<circle cx="189.84" cy="520.20" r="0.95" fill="#1a1aff"/>
<circle cx="189.07" cy="523.65" r="0.95" fill="#1a1aff"/>
<circle cx="190.45" cy="527.10" r="0.95" fill="#1a1aff"/>
<circle cx="188.96" cy="530.55" r="0.95" fill="#1a1aff"/>
<circle cx="188.98" cy="534.00" r="0.95" fill="#1a1aff"/>
<line x1="187.00" y1="576.60" x2="187.00" y2="580.50" stroke="#000" stroke-width="1.1" />
<text x="0.00" y="0.00" font-size="6.8" font-weight="bold" fill="#000" text-anchor="end" transform="translate(189.30,587.20) rotate(-45)">L-Methionine</text>
<rect x="198.00" y="529.80" width="4.40" height="46.80" fill="#808080" stroke="none" stroke-width="0"/>
<rect x="204.00" y="527.93" width="4.40" height="48.67" fill="#7373f3" stroke="none" stroke-width="0"/>
<line x1="200.20" y1="523.38" x2="200.20" y2="536.22" stroke="#111" stroke-width="0.9" />
<line x1="198.70" y1="523.38" x2="201.70" y2="523.38" stroke="#111" stroke-width="0.9" />
<line x1="198.70" y1="536.22" x2="201.70" y2="536.22" stroke="#111" stroke-width="0.9" />
<circle cx="199.44" cy="522.00" r="0.95" fill="#111"/>
<circle cx="199.32" cy="524.92" r="0.95" fill="#111"/>
<circle cx="199.78" cy="527.83" r="0.95" fill="#111"/>
<circle cx="199.04" cy="530.75" r="0.95" fill="#111"/>
<circle cx="198.90" cy="533.67" r="0.95" fill="#111"/>
<circle cx="199.29" cy="536.58" r="0.95" fill="#111"/>
<circle cx="199.16" cy="539.50" r="0.95" fill="#111"/>
<line x1="206.20" y1="516.87" x2="206.20" y2="538.98" stroke="#2626f0" stroke-width="0.9" />
<line x1="204.70" y1="516.87" x2="207.70" y2="516.87" stroke="#2626f0" stroke-width="0.9" />
<line x1="204.70" y1="538.98" x2="207.70" y2="538.98" stroke="#2626f0" stroke-width="0.9" />
<circle cx="205.85" cy="510.50" r="0.95" fill="#1a1aff"/>
<circle cx="204.97" cy="515.22" r="0.95" fill="#1a1aff"/>
<circle cx="207.17" cy="519.93" r="0.95" fill="#1a1aff"/>
<circle cx="206.50" cy="524.65" r="0.95" fill="#1a1aff"/>
<circle cx="205.29" cy="529.37" r="0.95" fill="#1a1aff"/>
<circle cx="205.56" cy="534.08" r="0.95" fill="#1a1aff"/>
<circle cx="205.80" cy="538.80" r="0.95" fill="#1a1aff"/>
<line x1="203.10" y1="576.60" x2="203.10" y2="580.50" stroke="#000" stroke-width="1.1" />
<text x="0.00" y="0.00" font-size="6.8" font-weight="bold" fill="#000" text-anchor="end" transform="translate(205.40,587.20) rotate(-45)">L-Phenylalanine</text>
<rect x="214.10" y="529.80" width="4.40" height="46.80" fill="#808080" stroke="none" stroke-width="0"/>
<rect x="220.10" y="535.88" width="4.40" height="40.72" fill="#7373f3" stroke="none" stroke-width="0"/>
<line x1="216.30" y1="525.42" x2="216.30" y2="534.18" stroke="#111" stroke-width="0.9" />
<line x1="214.80" y1="525.42" x2="217.80" y2="525.42" stroke="#111" stroke-width="0.9" />
<line x1="214.80" y1="534.18" x2="217.80" y2="534.18" stroke="#111" stroke-width="0.9" />
<circle cx="215.95" cy="523.50" r="0.95" fill="#111"/>
<circle cx="215.32" cy="525.50" r="0.95" fill="#111"/>
<circle cx="217.21" cy="527.50" r="0.95" fill="#111"/>
<circle cx="217.58" cy="529.50" r="0.95" fill="#111"/>
<circle cx="216.21" cy="531.50" r="0.95" fill="#111"/>
<circle cx="216.26" cy="533.50" r="0.95" fill="#111"/>
<circle cx="215.22" cy="535.50" r="0.95" fill="#111"/>
<line x1="222.30" y1="531.01" x2="222.30" y2="540.75" stroke="#2626f0" stroke-width="0.9" />
<line x1="220.80" y1="531.01" x2="223.80" y2="531.01" stroke="#2626f0" stroke-width="0.9" />
<line x1="220.80" y1="540.75" x2="223.80" y2="540.75" stroke="#2626f0" stroke-width="0.9" />
<circle cx="221.27" cy="533.00" r="0.95" fill="#1a1aff"/>
<circle cx="221.89" cy="534.67" r="0.95" fill="#1a1aff"/>
<circle cx="221.69" cy="536.33" r="0.95" fill="#1a1aff"/>
<circle cx="223.16" cy="538.00" r="0.95" fill="#1a1aff"/>
<circle cx="221.42" cy="539.67" r="0.95" fill="#1a1aff"/>
<circle cx="221.06" cy="541.33" r="0.95" fill="#1a1aff"/>
<circle cx="223.47" cy="543.00" r="0.95" fill="#1a1aff"/>
<line x1="219.20" y1="576.60" x2="219.20" y2="580.50" stroke="#000" stroke-width="1.1" />
<text x="0.00" y="0.00" font-size="6.8" font-weight="bold" fill="#000" text-anchor="end" transform="translate(221.50,587.20) rotate(-45)">L-Proline</text>
<polyline fill="none" stroke="#2a2a2a" stroke-width="1.1" stroke-linejoin="miter" points="216.20,521.5 216.20,476.4 222.30,476.4 222.30,531.2"/>
<text x="219.55" y="478.10" font-size="12.3" font-weight="bold" fill="#111" text-anchor="middle" >**</text>
<rect x="230.20" y="529.80" width="4.40" height="46.80" fill="#808080" stroke="none" stroke-width="0"/>
<rect x="236.20" y="517.16" width="4.40" height="59.44" fill="#7373f3" stroke="none" stroke-width="0"/>
<line x1="232.40" y1="525.12" x2="232.40" y2="534.48" stroke="#111" stroke-width="0.9" />
<line x1="230.90" y1="525.12" x2="233.90" y2="525.12" stroke="#111" stroke-width="0.9" />
<line x1="230.90" y1="534.48" x2="233.90" y2="534.48" stroke="#111" stroke-width="0.9" />
<circle cx="232.47" cy="525.60" r="0.95" fill="#111"/>
<circle cx="231.48" cy="527.43" r="0.95" fill="#111"/>
<circle cx="232.51" cy="529.27" r="0.95" fill="#111"/>
<circle cx="231.17" cy="531.10" r="0.95" fill="#111"/>
<circle cx="232.47" cy="532.93" r="0.95" fill="#111"/>
<circle cx="233.64" cy="534.77" r="0.95" fill="#111"/>
<circle cx="233.34" cy="536.60" r="0.95" fill="#111"/>
<line x1="238.40" y1="506.16" x2="238.40" y2="528.17" stroke="#2626f0" stroke-width="0.9" />
<line x1="236.90" y1="506.16" x2="239.90" y2="506.16" stroke="#2626f0" stroke-width="0.9" />
<line x1="236.90" y1="528.17" x2="239.90" y2="528.17" stroke="#2626f0" stroke-width="0.9" />
<circle cx="238.91" cy="504.00" r="0.95" fill="#1a1aff"/>
<circle cx="237.78" cy="509.08" r="0.95" fill="#1a1aff"/>
<circle cx="238.05" cy="514.17" r="0.95" fill="#1a1aff"/>
<circle cx="237.53" cy="519.25" r="0.95" fill="#1a1aff"/>
<circle cx="239.11" cy="524.33" r="0.95" fill="#1a1aff"/>
<circle cx="238.48" cy="529.42" r="0.95" fill="#1a1aff"/>
<circle cx="239.13" cy="534.50" r="0.95" fill="#1a1aff"/>
<line x1="235.30" y1="576.60" x2="235.30" y2="580.50" stroke="#000" stroke-width="1.1" />
<text x="0.00" y="0.00" font-size="6.8" font-weight="bold" fill="#000" text-anchor="end" transform="translate(237.60,587.20) rotate(-45)">L-Serine</text>
<polyline fill="none" stroke="#2a2a2a" stroke-width="1.1" stroke-linejoin="miter" points="232.30,522.5 232.30,476.4 238.40,476.4 238.40,483.6"/>
<text x="235.65" y="478.10" font-size="12.3" font-weight="bold" fill="#111" text-anchor="middle" >*</text>
<rect x="246.30" y="529.80" width="4.40" height="46.80" fill="#808080" stroke="none" stroke-width="0"/>
<rect x="252.30" y="516.70" width="4.40" height="59.90" fill="#7373f3" stroke="none" stroke-width="0"/>
<line x1="248.50" y1="523.80" x2="248.50" y2="535.80" stroke="#111" stroke-width="0.9" />
<line x1="247.00" y1="523.80" x2="250.00" y2="523.80" stroke="#111" stroke-width="0.9" />
<line x1="247.00" y1="535.80" x2="250.00" y2="535.80" stroke="#111" stroke-width="0.9" />
<circle cx="248.06" cy="525.00" r="0.95" fill="#111"/>
<circle cx="247.78" cy="527.30" r="0.95" fill="#111"/>
<circle cx="249.31" cy="529.60" r="0.95" fill="#111"/>
<circle cx="249.76" cy="531.90" r="0.95" fill="#111"/>
<circle cx="249.42" cy="534.20" r="0.95" fill="#111"/>
<circle cx="249.30" cy="536.50" r="0.95" fill="#111"/>
<circle cx="249.33" cy="538.80" r="0.95" fill="#111"/>
<line x1="254.50" y1="500.68" x2="254.50" y2="532.71" stroke="#2626f0" stroke-width="0.9" />
<line x1="253.00" y1="500.68" x2="256.00" y2="500.68" stroke="#2626f0" stroke-width="0.9" />
<line x1="253.00" y1="532.71" x2="256.00" y2="532.71" stroke="#2626f0" stroke-width="0.9" />
<circle cx="255.12" cy="491.00" r="0.95" fill="#1a1aff"/>
<circle cx="253.79" cy="498.97" r="0.95" fill="#1a1aff"/>
<circle cx="254.55" cy="506.93" r="0.95" fill="#1a1aff"/>
<circle cx="254.12" cy="514.90" r="0.95" fill="#1a1aff"/>
<circle cx="253.28" cy="522.87" r="0.95" fill="#1a1aff"/>
<circle cx="253.27" cy="530.83" r="0.95" fill="#1a1aff"/>
<circle cx="253.93" cy="538.80" r="0.95" fill="#1a1aff"/>
<line x1="251.40" y1="576.60" x2="251.40" y2="580.50" stroke="#000" stroke-width="1.1" />
<text x="0.00" y="0.00" font-size="6.8" font-weight="bold" fill="#000" text-anchor="end" transform="translate(253.70,587.20) rotate(-45)">L-Tryptophan</text>
<rect x="262.40" y="529.80" width="4.40" height="46.80" fill="#808080" stroke="none" stroke-width="0"/>
<rect x="268.40" y="529.80" width="4.40" height="46.80" fill="#7373f3" stroke="none" stroke-width="0"/>
<line x1="264.60" y1="522.48" x2="264.60" y2="537.12" stroke="#111" stroke-width="0.9" />
<line x1="263.10" y1="522.48" x2="266.10" y2="522.48" stroke="#111" stroke-width="0.9" />
<line x1="263.10" y1="537.12" x2="266.10" y2="537.12" stroke="#111" stroke-width="0.9" />
<circle cx="263.97" cy="521.80" r="0.95" fill="#111"/>
<circle cx="265.10" cy="525.00" r="0.95" fill="#111"/>
<circle cx="265.79" cy="528.20" r="0.95" fill="#111"/>
<circle cx="264.46" cy="531.40" r="0.95" fill="#111"/>
<circle cx="265.74" cy="534.60" r="0.95" fill="#111"/>
<circle cx="265.87" cy="537.80" r="0.95" fill="#111"/>
<circle cx="265.78" cy="541.00" r="0.95" fill="#111"/>
<line x1="270.60" y1="517.62" x2="270.60" y2="541.98" stroke="#2626f0" stroke-width="0.9" />
<line x1="269.10" y1="517.62" x2="272.10" y2="517.62" stroke="#2626f0" stroke-width="0.9" />
<line x1="269.10" y1="541.98" x2="272.10" y2="541.98" stroke="#2626f0" stroke-width="0.9" />
<circle cx="270.25" cy="510.50" r="0.95" fill="#1a1aff"/>
<circle cx="269.87" cy="515.92" r="0.95" fill="#1a1aff"/>
<circle cx="269.89" cy="521.33" r="0.95" fill="#1a1aff"/>
<circle cx="269.81" cy="526.75" r="0.95" fill="#1a1aff"/>
<circle cx="269.83" cy="532.17" r="0.95" fill="#1a1aff"/>
<circle cx="270.92" cy="537.58" r="0.95" fill="#1a1aff"/>
<circle cx="271.64" cy="543.00" r="0.95" fill="#1a1aff"/>
<line x1="267.50" y1="576.60" x2="267.50" y2="580.50" stroke="#000" stroke-width="1.1" />
<text x="0.00" y="0.00" font-size="6.8" font-weight="bold" fill="#000" text-anchor="end" transform="translate(269.80,587.20) rotate(-45)">L-Tyrosine</text>
<rect x="278.50" y="529.80" width="4.40" height="46.80" fill="#808080" stroke="none" stroke-width="0"/>
<rect x="284.50" y="531.20" width="4.40" height="45.40" fill="#7373f3" stroke="none" stroke-width="0"/>
<line x1="280.70" y1="527.04" x2="280.70" y2="532.56" stroke="#111" stroke-width="0.9" />
<line x1="279.20" y1="527.04" x2="282.20" y2="527.04" stroke="#111" stroke-width="0.9" />
<line x1="279.20" y1="532.56" x2="282.20" y2="532.56" stroke="#111" stroke-width="0.9" />
<circle cx="281.59" cy="527.00" r="0.95" fill="#111"/>
<circle cx="280.65" cy="528.07" r="0.95" fill="#111"/>
<circle cx="281.10" cy="529.13" r="0.95" fill="#111"/>
<circle cx="281.48" cy="530.20" r="0.95" fill="#111"/>
<circle cx="279.62" cy="531.27" r="0.95" fill="#111"/>
<circle cx="281.12" cy="532.33" r="0.95" fill="#111"/>
<circle cx="281.77" cy="533.40" r="0.95" fill="#111"/>
<line x1="286.70" y1="525.69" x2="286.70" y2="536.72" stroke="#2626f0" stroke-width="0.9" />
<line x1="285.20" y1="525.69" x2="288.20" y2="525.69" stroke="#2626f0" stroke-width="0.9" />
<line x1="285.20" y1="536.72" x2="288.20" y2="536.72" stroke="#2626f0" stroke-width="0.9" />
<circle cx="287.43" cy="527.30" r="0.95" fill="#1a1aff"/>
<circle cx="287.35" cy="529.32" r="0.95" fill="#1a1aff"/>
<circle cx="286.64" cy="531.33" r="0.95" fill="#1a1aff"/>
<circle cx="285.86" cy="533.35" r="0.95" fill="#1a1aff"/>
<circle cx="287.45" cy="535.37" r="0.95" fill="#1a1aff"/>
<circle cx="286.26" cy="537.38" r="0.95" fill="#1a1aff"/>
<circle cx="287.48" cy="539.40" r="0.95" fill="#1a1aff"/>
<line x1="283.60" y1="576.60" x2="283.60" y2="580.50" stroke="#000" stroke-width="1.1" />
<text x="0.00" y="0.00" font-size="6.8" font-weight="bold" fill="#000" text-anchor="end" transform="translate(285.90,587.20) rotate(-45)">L-Valine</text>
<polyline fill="none" stroke="#2a2a2a" stroke-width="1.1" stroke-linejoin="miter" points="280.60,521.5 280.60,476.4 286.70,476.4 286.70,525.8"/>
<text x="283.95" y="478.10" font-size="12.3" font-weight="bold" fill="#111" text-anchor="middle" >*</text>
<rect x="294.60" y="529.80" width="4.40" height="46.80" fill="#808080" stroke="none" stroke-width="0"/>
<rect x="300.60" y="529.80" width="4.40" height="46.80" fill="#7373f3" stroke="none" stroke-width="0"/>
<line x1="296.80" y1="526.50" x2="296.80" y2="533.10" stroke="#111" stroke-width="0.9" />
<line x1="295.30" y1="526.50" x2="298.30" y2="526.50" stroke="#111" stroke-width="0.9" />
<line x1="295.30" y1="533.10" x2="298.30" y2="533.10" stroke="#111" stroke-width="0.9" />
<circle cx="298.03" cy="525.30" r="0.95" fill="#111"/>
<circle cx="296.53" cy="526.58" r="0.95" fill="#111"/>
<circle cx="296.54" cy="527.87" r="0.95" fill="#111"/>
<circle cx="297.96" cy="529.15" r="0.95" fill="#111"/>
<circle cx="297.38" cy="530.43" r="0.95" fill="#111"/>
<circle cx="295.94" cy="531.72" r="0.95" fill="#111"/>
<circle cx="295.83" cy="533.00" r="0.95" fill="#111"/>
<line x1="302.80" y1="525.72" x2="302.80" y2="533.88" stroke="#2626f0" stroke-width="0.9" />
<line x1="301.30" y1="525.72" x2="304.30" y2="525.72" stroke="#2626f0" stroke-width="0.9" />
<line x1="301.30" y1="533.88" x2="304.30" y2="533.88" stroke="#2626f0" stroke-width="0.9" />
<circle cx="301.89" cy="524.70" r="0.95" fill="#1a1aff"/>
<circle cx="303.85" cy="526.52" r="0.95" fill="#1a1aff"/>
<circle cx="303.60" cy="528.33" r="0.95" fill="#1a1aff"/>
<circle cx="301.88" cy="530.15" r="0.95" fill="#1a1aff"/>
<circle cx="303.65" cy="531.97" r="0.95" fill="#1a1aff"/>
<circle cx="304.05" cy="533.78" r="0.95" fill="#1a1aff"/>
<circle cx="303.21" cy="535.60" r="0.95" fill="#1a1aff"/>
<line x1="299.70" y1="576.60" x2="299.70" y2="580.50" stroke="#000" stroke-width="1.1" />
<text x="0.00" y="0.00" font-size="6.8" font-weight="bold" fill="#000" text-anchor="end" transform="translate(302.00,587.20) rotate(-45)">N-Acetyl-L-aspartic acid</text>
<rect x="310.70" y="529.80" width="4.40" height="46.80" fill="#808080" stroke="none" stroke-width="0"/>
<rect x="316.70" y="516.23" width="4.40" height="60.37" fill="#7373f3" stroke="none" stroke-width="0"/>
<line x1="312.90" y1="520.74" x2="312.90" y2="538.86" stroke="#111" stroke-width="0.9" />
<line x1="311.40" y1="520.74" x2="314.40" y2="520.74" stroke="#111" stroke-width="0.9" />
<line x1="311.40" y1="538.86" x2="314.40" y2="538.86" stroke="#111" stroke-width="0.9" />
<circle cx="312.51" cy="515.70" r="0.95" fill="#111"/>
<circle cx="313.03" cy="520.30" r="0.95" fill="#111"/>
<circle cx="311.94" cy="524.90" r="0.95" fill="#111"/>
<circle cx="311.64" cy="529.50" r="0.95" fill="#111"/>
<circle cx="314.12" cy="534.10" r="0.95" fill="#111"/>
<circle cx="313.29" cy="538.70" r="0.95" fill="#111"/>
<circle cx="312.97" cy="543.30" r="0.95" fill="#111"/>
<line x1="318.90" y1="498.69" x2="318.90" y2="533.76" stroke="#2626f0" stroke-width="0.9" />
<line x1="317.40" y1="498.69" x2="320.40" y2="498.69" stroke="#2626f0" stroke-width="0.9" />
<line x1="317.40" y1="533.76" x2="320.40" y2="533.76" stroke="#2626f0" stroke-width="0.9" />
<circle cx="320.03" cy="488.00" r="0.95" fill="#1a1aff"/>
<circle cx="318.73" cy="497.00" r="0.95" fill="#1a1aff"/>
<circle cx="319.87" cy="506.00" r="0.95" fill="#1a1aff"/>
<circle cx="319.75" cy="515.00" r="0.95" fill="#1a1aff"/>
<circle cx="318.15" cy="524.00" r="0.95" fill="#1a1aff"/>
<circle cx="318.25" cy="533.00" r="0.95" fill="#1a1aff"/>
<circle cx="318.36" cy="542.00" r="0.95" fill="#1a1aff"/>
<line x1="315.80" y1="576.60" x2="315.80" y2="580.50" stroke="#000" stroke-width="1.1" />
<text x="0.00" y="0.00" font-size="6.8" font-weight="bold" fill="#000" text-anchor="end" transform="translate(318.10,587.20) rotate(-45)">Ornithine</text>
<rect x="326.80" y="529.80" width="4.40" height="46.80" fill="#808080" stroke="none" stroke-width="0"/>
<rect x="332.80" y="532.14" width="4.40" height="44.46" fill="#7373f3" stroke="none" stroke-width="0"/>
<line x1="329.00" y1="511.50" x2="329.00" y2="548.10" stroke="#111" stroke-width="0.9" />
<line x1="327.50" y1="511.50" x2="330.50" y2="511.50" stroke="#111" stroke-width="0.9" />
<line x1="327.50" y1="548.10" x2="330.50" y2="548.10" stroke="#111" stroke-width="0.9" />
<circle cx="328.33" cy="500.30" r="0.95" fill="#111"/>
<circle cx="329.22" cy="507.47" r="0.95" fill="#111"/>
<circle cx="328.37" cy="514.63" r="0.95" fill="#111"/>
<circle cx="328.79" cy="521.80" r="0.95" fill="#111"/>
<circle cx="328.04" cy="528.97" r="0.95" fill="#111"/>
<circle cx="330.07" cy="536.13" r="0.95" fill="#111"/>
<circle cx="328.62" cy="543.30" r="0.95" fill="#111"/>
<line x1="335.00" y1="524.38" x2="335.00" y2="539.90" stroke="#2626f0" stroke-width="0.9" />
<line x1="333.50" y1="524.38" x2="336.50" y2="524.38" stroke="#2626f0" stroke-width="0.9" />
<line x1="333.50" y1="539.90" x2="336.50" y2="539.90" stroke="#2626f0" stroke-width="0.9" />
<circle cx="334.89" cy="520.20" r="0.95" fill="#1a1aff"/>
<circle cx="335.22" cy="523.40" r="0.95" fill="#1a1aff"/>
<circle cx="336.05" cy="526.60" r="0.95" fill="#1a1aff"/>
<circle cx="334.79" cy="529.80" r="0.95" fill="#1a1aff"/>
<circle cx="336.09" cy="533.00" r="0.95" fill="#1a1aff"/>
<circle cx="335.00" cy="536.20" r="0.95" fill="#1a1aff"/>
<circle cx="335.08" cy="539.40" r="0.95" fill="#1a1aff"/>
<line x1="331.90" y1="576.60" x2="331.90" y2="580.50" stroke="#000" stroke-width="1.1" />
<text x="0.00" y="0.00" font-size="6.8" font-weight="bold" fill="#000" text-anchor="end" transform="translate(334.20,587.20) rotate(-45)">PhosphorylCholine</text>
<rect x="342.90" y="529.80" width="4.40" height="46.80" fill="#808080" stroke="none" stroke-width="0"/>
<rect x="348.90" y="517.16" width="4.40" height="59.44" fill="#7373f3" stroke="none" stroke-width="0"/>
<line x1="345.10" y1="523.44" x2="345.10" y2="536.16" stroke="#111" stroke-width="0.9" />
<line x1="343.60" y1="523.44" x2="346.60" y2="523.44" stroke="#111" stroke-width="0.9" />
<line x1="343.60" y1="536.16" x2="346.60" y2="536.16" stroke="#111" stroke-width="0.9" />
<circle cx="345.16" cy="520.20" r="0.95" fill="#111"/>
<circle cx="343.85" cy="522.77" r="0.95" fill="#111"/>
<circle cx="344.94" cy="525.33" r="0.95" fill="#111"/>
<circle cx="344.28" cy="527.90" r="0.95" fill="#111"/>
<circle cx="343.81" cy="530.47" r="0.95" fill="#111"/>
<circle cx="345.88" cy="533.03" r="0.95" fill="#111"/>
<circle cx="344.25" cy="535.60" r="0.95" fill="#111"/>
<line x1="351.10" y1="502.19" x2="351.10" y2="532.14" stroke="#2626f0" stroke-width="0.9" />
<line x1="349.60" y1="502.19" x2="352.60" y2="502.19" stroke="#2626f0" stroke-width="0.9" />
<line x1="349.60" y1="532.14" x2="352.60" y2="532.14" stroke="#2626f0" stroke-width="0.9" />
<circle cx="351.03" cy="493.20" r="0.95" fill="#1a1aff"/>
<circle cx="351.69" cy="498.55" r="0.95" fill="#1a1aff"/>
<circle cx="351.25" cy="503.90" r="0.95" fill="#1a1aff"/>
<circle cx="350.65" cy="509.25" r="0.95" fill="#1a1aff"/>
<circle cx="351.15" cy="514.60" r="0.95" fill="#1a1aff"/>
<circle cx="351.24" cy="519.95" r="0.95" fill="#1a1aff"/>
<circle cx="351.84" cy="525.30" r="0.95" fill="#1a1aff"/>
<line x1="348.00" y1="576.60" x2="348.00" y2="580.50" stroke="#000" stroke-width="1.1" />
<text x="0.00" y="0.00" font-size="6.8" font-weight="bold" fill="#000" text-anchor="end" transform="translate(350.30,587.20) rotate(-45)">PhosphorylEthanolamine</text>
<polyline fill="none" stroke="#2a2a2a" stroke-width="1.1" stroke-linejoin="miter" points="345.00,512.9 345.00,476.4 351.10,476.4 351.10,486.9"/>
<text x="348.35" y="478.10" font-size="12.3" font-weight="bold" fill="#111" text-anchor="middle" >*</text>
<rect x="359.00" y="529.80" width="4.40" height="46.80" fill="#808080" stroke="none" stroke-width="0"/>
<rect x="365.00" y="519.50" width="4.40" height="57.10" fill="#7373f3" stroke="none" stroke-width="0"/>
<line x1="361.20" y1="523.08" x2="361.20" y2="536.52" stroke="#111" stroke-width="0.9" />
<line x1="359.70" y1="523.08" x2="362.70" y2="523.08" stroke="#111" stroke-width="0.9" />
<line x1="359.70" y1="536.52" x2="362.70" y2="536.52" stroke="#111" stroke-width="0.9" />
<circle cx="360.18" cy="519.60" r="0.95" fill="#111"/>
<circle cx="361.36" cy="522.05" r="0.95" fill="#111"/>
<circle cx="360.55" cy="524.50" r="0.95" fill="#111"/>
<circle cx="360.62" cy="526.95" r="0.95" fill="#111"/>
<circle cx="361.91" cy="529.40" r="0.95" fill="#111"/>
<circle cx="361.22" cy="531.85" r="0.95" fill="#111"/>
<circle cx="361.36" cy="534.30" r="0.95" fill="#111"/>
<line x1="367.20" y1="515.43" x2="367.20" y2="523.58" stroke="#2626f0" stroke-width="0.9" />
<line x1="365.70" y1="515.43" x2="368.70" y2="515.43" stroke="#2626f0" stroke-width="0.9" />
<line x1="365.70" y1="523.58" x2="368.70" y2="523.58" stroke="#2626f0" stroke-width="0.9" />
<circle cx="367.88" cy="519.00" r="0.95" fill="#1a1aff"/>
<circle cx="368.27" cy="520.05" r="0.95" fill="#1a1aff"/>
<circle cx="367.05" cy="521.10" r="0.95" fill="#1a1aff"/>
<circle cx="367.49" cy="522.15" r="0.95" fill="#1a1aff"/>
<circle cx="367.21" cy="523.20" r="0.95" fill="#1a1aff"/>
<circle cx="367.23" cy="524.25" r="0.95" fill="#1a1aff"/>
<circle cx="367.70" cy="525.30" r="0.95" fill="#1a1aff"/>
<line x1="364.10" y1="576.60" x2="364.10" y2="580.50" stroke="#000" stroke-width="1.1" />
<text x="0.00" y="0.00" font-size="6.8" font-weight="bold" fill="#000" text-anchor="end" transform="translate(366.40,587.20) rotate(-45)">Sarcosine</text>
<polyline fill="none" stroke="#2a2a2a" stroke-width="1.1" stroke-linejoin="miter" points="361.10,517 361.10,476.4 367.20,476.4 367.20,516"/>
<text x="364.45" y="478.10" font-size="12.3" font-weight="bold" fill="#111" text-anchor="middle" >**</text>
<line x1="51.60" y1="459.20" x2="51.60" y2="577.20" stroke="#000" stroke-width="1.3" />
<line x1="47.80" y1="576.60" x2="51.60" y2="576.60" stroke="#000" stroke-width="1.1" />
<text x="46.60" y="579.20" font-size="7.2" font-weight="bold" fill="#222" text-anchor="end" >0.0</text>
<line x1="47.80" y1="553.20" x2="51.60" y2="553.20" stroke="#000" stroke-width="1.1" />
<text x="46.60" y="555.80" font-size="7.2" font-weight="bold" fill="#222" text-anchor="end" >0.5</text>
<line x1="47.80" y1="529.80" x2="51.60" y2="529.80" stroke="#000" stroke-width="1.1" />
<text x="46.60" y="532.40" font-size="7.2" font-weight="bold" fill="#222" text-anchor="end" >1.0</text>
<line x1="47.80" y1="506.40" x2="51.60" y2="506.40" stroke="#000" stroke-width="1.1" />
<text x="46.60" y="509.00" font-size="7.2" font-weight="bold" fill="#222" text-anchor="end" >1.5</text>
<line x1="47.80" y1="483.00" x2="51.60" y2="483.00" stroke="#000" stroke-width="1.1" />
<text x="46.60" y="485.60" font-size="7.2" font-weight="bold" fill="#222" text-anchor="end" >2.0</text>
<line x1="47.80" y1="459.60" x2="51.60" y2="459.60" stroke="#000" stroke-width="1.1" />
<text x="46.60" y="462.20" font-size="7.2" font-weight="bold" fill="#222" text-anchor="end" >2.5</text>
<line x1="51.00" y1="576.60" x2="371.50" y2="576.60" stroke="#000" stroke-width="1.3" />
<text x="0.00" y="0.00" font-size="10.9"  fill="#000" text-anchor="middle" transform="translate(400.2,517.1) rotate(-90)">Normalized Peak Area to WT2 levels</text>
<circle cx="416.30" cy="440.30" r="1.0" fill="#000"/>
<text x="426.50" y="444.20" font-size="11"  fill="#000" text-anchor="start" >WT2</text>
<circle cx="452.30" cy="440.30" r="1.0" fill="#4aa3f5"/>
<text x="461.90" y="444.20" font-size="11"  fill="#000" text-anchor="start" >MUT2</text>
<rect x="420.00" y="517.10" width="4.40" height="57.30" fill="#808080" stroke="none" stroke-width="0"/>
<rect x="426.00" y="526.27" width="4.40" height="48.13" fill="#bcd9f7" stroke="none" stroke-width="0"/>
<line x1="422.20" y1="512.84" x2="422.20" y2="521.36" stroke="#111" stroke-width="0.9" />
<line x1="420.70" y1="512.84" x2="423.70" y2="512.84" stroke="#111" stroke-width="0.9" />
<line x1="420.70" y1="521.36" x2="423.70" y2="521.36" stroke="#111" stroke-width="0.9" />
<circle cx="422.08" cy="511.00" r="0.95" fill="#111"/>
<circle cx="422.29" cy="514.80" r="0.95" fill="#111"/>
<circle cx="422.14" cy="518.60" r="0.95" fill="#111"/>
<circle cx="423.35" cy="522.40" r="0.95" fill="#111"/>
<line x1="428.20" y1="514.53" x2="428.20" y2="538.01" stroke="#72b6f2" stroke-width="0.9" />
<line x1="426.70" y1="514.53" x2="429.70" y2="514.53" stroke="#72b6f2" stroke-width="0.9" />
<line x1="426.70" y1="538.01" x2="429.70" y2="538.01" stroke="#72b6f2" stroke-width="0.9" />
<circle cx="428.72" cy="507.70" r="0.95" fill="#4aa3f5"/>
<circle cx="429.18" cy="517.73" r="0.95" fill="#4aa3f5"/>
<circle cx="429.35" cy="527.77" r="0.95" fill="#4aa3f5"/>
<circle cx="427.57" cy="537.80" r="0.95" fill="#4aa3f5"/>
<line x1="425.20" y1="574.40" x2="425.20" y2="578.30" stroke="#000" stroke-width="1.1" />
<text x="0.00" y="0.00" font-size="6.6" font-weight="bold" fill="#000" text-anchor="end" transform="translate(427.40,584.00) rotate(-45)">L-Alanine</text>
<rect x="435.01" y="517.10" width="4.40" height="57.30" fill="#808080" stroke="none" stroke-width="0"/>
<rect x="441.01" y="529.13" width="4.40" height="45.27" fill="#bcd9f7" stroke="none" stroke-width="0"/>
<line x1="437.21" y1="514.64" x2="437.21" y2="519.56" stroke="#111" stroke-width="0.9" />
<line x1="435.71" y1="514.64" x2="438.71" y2="514.64" stroke="#111" stroke-width="0.9" />
<line x1="435.71" y1="519.56" x2="438.71" y2="519.56" stroke="#111" stroke-width="0.9" />
<circle cx="437.36" cy="514.00" r="0.95" fill="#111"/>
<circle cx="438.36" cy="515.33" r="0.95" fill="#111"/>
<circle cx="438.09" cy="516.67" r="0.95" fill="#111"/>
<circle cx="436.27" cy="518.00" r="0.95" fill="#111"/>
<line x1="443.21" y1="524.55" x2="443.21" y2="533.71" stroke="#72b6f2" stroke-width="0.9" />
<line x1="441.71" y1="524.55" x2="444.71" y2="524.55" stroke="#72b6f2" stroke-width="0.9" />
<line x1="441.71" y1="533.71" x2="444.71" y2="533.71" stroke="#72b6f2" stroke-width="0.9" />
<circle cx="442.23" cy="522.50" r="0.95" fill="#4aa3f5"/>
<circle cx="443.06" cy="526.10" r="0.95" fill="#4aa3f5"/>
<circle cx="442.10" cy="529.70" r="0.95" fill="#4aa3f5"/>
<circle cx="442.54" cy="533.30" r="0.95" fill="#4aa3f5"/>
<line x1="440.21" y1="574.40" x2="440.21" y2="578.30" stroke="#000" stroke-width="1.1" />
<text x="0.00" y="0.00" font-size="6.6" font-weight="bold" fill="#000" text-anchor="end" transform="translate(442.41,584.00) rotate(-45)">L-Asparagine</text>
<polyline fill="none" stroke="#2a2a2a" stroke-width="1.1" stroke-linejoin="miter" points="437.11,507.5 437.11,481.5 443.21,481.5 443.21,515"/>
<text x="440.46" y="483.20" font-size="12.3" font-weight="bold" fill="#111" text-anchor="middle" >*</text>
<rect x="450.02" y="517.10" width="4.40" height="57.30" fill="#808080" stroke="none" stroke-width="0"/>
<rect x="456.02" y="513.09" width="4.40" height="61.31" fill="#bcd9f7" stroke="none" stroke-width="0"/>
<line x1="452.22" y1="515.10" x2="452.22" y2="519.10" stroke="#111" stroke-width="0.9" />
<line x1="450.72" y1="515.10" x2="453.72" y2="515.10" stroke="#111" stroke-width="0.9" />
<line x1="450.72" y1="519.10" x2="453.72" y2="519.10" stroke="#111" stroke-width="0.9" />
<circle cx="451.11" cy="516.00" r="0.95" fill="#111"/>
<circle cx="452.66" cy="516.43" r="0.95" fill="#111"/>
<circle cx="452.96" cy="516.87" r="0.95" fill="#111"/>
<circle cx="453.25" cy="517.30" r="0.95" fill="#111"/>
<line x1="458.22" y1="506.56" x2="458.22" y2="519.62" stroke="#72b6f2" stroke-width="0.9" />
<line x1="456.72" y1="506.56" x2="459.72" y2="506.56" stroke="#72b6f2" stroke-width="0.9" />
<line x1="456.72" y1="519.62" x2="459.72" y2="519.62" stroke="#72b6f2" stroke-width="0.9" />
<circle cx="457.32" cy="503.20" r="0.95" fill="#4aa3f5"/>
<circle cx="458.78" cy="509.13" r="0.95" fill="#4aa3f5"/>
<circle cx="458.64" cy="515.07" r="0.95" fill="#4aa3f5"/>
<circle cx="457.29" cy="521.00" r="0.95" fill="#4aa3f5"/>
<line x1="455.22" y1="574.40" x2="455.22" y2="578.30" stroke="#000" stroke-width="1.1" />
<text x="0.00" y="0.00" font-size="6.6" font-weight="bold" fill="#000" text-anchor="end" transform="translate(457.42,584.00) rotate(-45)">L-Aspartic acid</text>
<rect x="465.03" y="517.10" width="4.40" height="57.30" fill="#808080" stroke="none" stroke-width="0"/>
<rect x="471.03" y="529.13" width="4.40" height="45.27" fill="#bcd9f7" stroke="none" stroke-width="0"/>
<line x1="467.23" y1="507.80" x2="467.23" y2="526.40" stroke="#111" stroke-width="0.9" />
<line x1="465.73" y1="507.80" x2="468.73" y2="507.80" stroke="#111" stroke-width="0.9" />
<line x1="465.73" y1="526.40" x2="468.73" y2="526.40" stroke="#111" stroke-width="0.9" />
<circle cx="468.23" cy="502.60" r="0.95" fill="#111"/>
<circle cx="468.45" cy="510.50" r="0.95" fill="#111"/>
<circle cx="466.50" cy="518.40" r="0.95" fill="#111"/>
<circle cx="468.41" cy="526.30" r="0.95" fill="#111"/>
<line x1="473.23" y1="525.33" x2="473.23" y2="532.93" stroke="#72b6f2" stroke-width="0.9" />
<line x1="471.73" y1="525.33" x2="474.73" y2="525.33" stroke="#72b6f2" stroke-width="0.9" />
<line x1="471.73" y1="532.93" x2="474.73" y2="532.93" stroke="#72b6f2" stroke-width="0.9" />
<circle cx="472.97" cy="523.80" r="0.95" fill="#4aa3f5"/>
<circle cx="473.20" cy="526.77" r="0.95" fill="#4aa3f5"/>
<circle cx="474.50" cy="529.73" r="0.95" fill="#4aa3f5"/>
<circle cx="474.09" cy="532.70" r="0.95" fill="#4aa3f5"/>
<line x1="470.23" y1="574.40" x2="470.23" y2="578.30" stroke="#000" stroke-width="1.1" />
<text x="0.00" y="0.00" font-size="6.6" font-weight="bold" fill="#000" text-anchor="end" transform="translate(472.43,584.00) rotate(-45)">L-Citrulline</text>
<rect x="480.04" y="517.10" width="4.40" height="57.30" fill="#808080" stroke="none" stroke-width="0"/>
<rect x="486.04" y="534.86" width="4.40" height="39.54" fill="#bcd9f7" stroke="none" stroke-width="0"/>
<line x1="482.24" y1="509.24" x2="482.24" y2="524.96" stroke="#111" stroke-width="0.9" />
<line x1="480.74" y1="509.24" x2="483.74" y2="509.24" stroke="#111" stroke-width="0.9" />
<line x1="480.74" y1="524.96" x2="483.74" y2="524.96" stroke="#111" stroke-width="0.9" />
<circle cx="481.36" cy="505.00" r="0.95" fill="#111"/>
<circle cx="482.06" cy="513.00" r="0.95" fill="#111"/>
<circle cx="482.28" cy="521.00" r="0.95" fill="#111"/>
<circle cx="481.82" cy="529.00" r="0.95" fill="#111"/>
<line x1="488.24" y1="528.77" x2="488.24" y2="540.96" stroke="#72b6f2" stroke-width="0.9" />
<line x1="486.74" y1="528.77" x2="489.74" y2="528.77" stroke="#72b6f2" stroke-width="0.9" />
<line x1="486.74" y1="540.96" x2="489.74" y2="540.96" stroke="#72b6f2" stroke-width="0.9" />
<circle cx="487.45" cy="525.70" r="0.95" fill="#4aa3f5"/>
<circle cx="487.77" cy="531.03" r="0.95" fill="#4aa3f5"/>
<circle cx="488.82" cy="536.37" r="0.95" fill="#4aa3f5"/>
<circle cx="486.99" cy="541.70" r="0.95" fill="#4aa3f5"/>
<line x1="485.24" y1="574.40" x2="485.24" y2="578.30" stroke="#000" stroke-width="1.1" />
<text x="0.00" y="0.00" font-size="6.6" font-weight="bold" fill="#000" text-anchor="end" transform="translate(487.44,584.00) rotate(-45)">L-Cystathionine</text>
<polyline fill="none" stroke="#2a2a2a" stroke-width="1.1" stroke-linejoin="miter" points="482.14,503.1 482.14,481.5 488.24,481.5 488.24,522.7"/>
<text x="485.49" y="483.20" font-size="12.3" font-weight="bold" fill="#111" text-anchor="middle" >*</text>
<rect x="495.05" y="517.10" width="4.40" height="57.30" fill="#808080" stroke="none" stroke-width="0"/>
<rect x="501.05" y="492.46" width="4.40" height="81.94" fill="#bcd9f7" stroke="none" stroke-width="0"/>
<line x1="497.25" y1="512.18" x2="497.25" y2="522.02" stroke="#111" stroke-width="0.9" />
<line x1="495.75" y1="512.18" x2="498.75" y2="512.18" stroke="#111" stroke-width="0.9" />
<line x1="495.75" y1="522.02" x2="498.75" y2="522.02" stroke="#111" stroke-width="0.9" />
<circle cx="497.39" cy="512.90" r="0.95" fill="#111"/>
<circle cx="497.10" cy="516.70" r="0.95" fill="#111"/>
<circle cx="496.00" cy="520.50" r="0.95" fill="#111"/>
<circle cx="496.81" cy="524.30" r="0.95" fill="#111"/>
<line x1="503.25" y1="488.54" x2="503.25" y2="496.38" stroke="#72b6f2" stroke-width="0.9" />
<line x1="501.75" y1="488.54" x2="504.75" y2="488.54" stroke="#72b6f2" stroke-width="0.9" />
<line x1="501.75" y1="496.38" x2="504.75" y2="496.38" stroke="#72b6f2" stroke-width="0.9" />
<circle cx="503.57" cy="493.00" r="0.95" fill="#4aa3f5"/>
<circle cx="503.28" cy="494.67" r="0.95" fill="#4aa3f5"/>
<circle cx="502.12" cy="496.33" r="0.95" fill="#4aa3f5"/>
<circle cx="504.51" cy="498.00" r="0.95" fill="#4aa3f5"/>
<line x1="500.25" y1="574.40" x2="500.25" y2="578.30" stroke="#000" stroke-width="1.1" />
<text x="0.00" y="0.00" font-size="6.6" font-weight="bold" fill="#000" text-anchor="end" transform="translate(502.45,584.00) rotate(-45)">L-Glutamic acid</text>
<polyline fill="none" stroke="#2a2a2a" stroke-width="1.1" stroke-linejoin="miter" points="497.15,509.6 497.15,481.8 503.25,481.8 503.25,486.4"/>
<text x="500.50" y="483.50" font-size="12.3" font-weight="bold" fill="#111" text-anchor="middle" >**</text>
<rect x="510.06" y="517.10" width="4.40" height="57.30" fill="#808080" stroke="none" stroke-width="0"/>
<rect x="516.06" y="514.24" width="4.40" height="60.16" fill="#bcd9f7" stroke="none" stroke-width="0"/>
<line x1="512.26" y1="515.10" x2="512.26" y2="519.10" stroke="#111" stroke-width="0.9" />
<line x1="510.76" y1="515.10" x2="513.76" y2="515.10" stroke="#111" stroke-width="0.9" />
<line x1="510.76" y1="519.10" x2="513.76" y2="519.10" stroke="#111" stroke-width="0.9" />
<circle cx="513.01" cy="514.80" r="0.95" fill="#111"/>
<circle cx="513.49" cy="516.27" r="0.95" fill="#111"/>
<circle cx="511.23" cy="517.73" r="0.95" fill="#111"/>
<circle cx="511.65" cy="519.20" r="0.95" fill="#111"/>
<line x1="518.26" y1="508.38" x2="518.26" y2="520.09" stroke="#72b6f2" stroke-width="0.9" />
<line x1="516.76" y1="508.38" x2="519.76" y2="508.38" stroke="#72b6f2" stroke-width="0.9" />
<line x1="516.76" y1="520.09" x2="519.76" y2="520.09" stroke="#72b6f2" stroke-width="0.9" />
<circle cx="517.06" cy="511.60" r="0.95" fill="#4aa3f5"/>
<circle cx="518.99" cy="515.40" r="0.95" fill="#4aa3f5"/>
<circle cx="517.66" cy="519.20" r="0.95" fill="#4aa3f5"/>
<circle cx="517.30" cy="523.00" r="0.95" fill="#4aa3f5"/>
<line x1="515.26" y1="574.40" x2="515.26" y2="578.30" stroke="#000" stroke-width="1.1" />
<text x="0.00" y="0.00" font-size="6.6" font-weight="bold" fill="#000" text-anchor="end" transform="translate(517.46,584.00) rotate(-45)">L-Glutamine</text>
<rect x="525.07" y="517.10" width="4.40" height="57.30" fill="#808080" stroke="none" stroke-width="0"/>
<rect x="531.07" y="540.02" width="4.40" height="34.38" fill="#bcd9f7" stroke="none" stroke-width="0"/>
<line x1="527.27" y1="510.98" x2="527.27" y2="523.22" stroke="#111" stroke-width="0.9" />
<line x1="525.77" y1="510.98" x2="528.77" y2="510.98" stroke="#111" stroke-width="0.9" />
<line x1="525.77" y1="523.22" x2="528.77" y2="523.22" stroke="#111" stroke-width="0.9" />
<circle cx="527.07" cy="510.30" r="0.95" fill="#111"/>
<circle cx="528.34" cy="515.63" r="0.95" fill="#111"/>
<circle cx="528.10" cy="520.97" r="0.95" fill="#111"/>
<circle cx="526.64" cy="526.30" r="0.95" fill="#111"/>
<line x1="533.27" y1="533.01" x2="533.27" y2="547.03" stroke="#72b6f2" stroke-width="0.9" />
<line x1="531.77" y1="533.01" x2="534.77" y2="533.01" stroke="#72b6f2" stroke-width="0.9" />
<line x1="531.77" y1="547.03" x2="534.77" y2="547.03" stroke="#72b6f2" stroke-width="0.9" />
<circle cx="532.36" cy="539.20" r="0.95" fill="#4aa3f5"/>
<circle cx="534.36" cy="543.03" r="0.95" fill="#4aa3f5"/>
<circle cx="533.45" cy="546.87" r="0.95" fill="#4aa3f5"/>
<circle cx="533.79" cy="550.70" r="0.95" fill="#4aa3f5"/>
<line x1="530.27" y1="574.40" x2="530.27" y2="578.30" stroke="#000" stroke-width="1.1" />
<text x="0.00" y="0.00" font-size="6.6" font-weight="bold" fill="#000" text-anchor="end" transform="translate(532.47,584.00) rotate(-45)">L-Lysine</text>
<polyline fill="none" stroke="#2a2a2a" stroke-width="1.1" stroke-linejoin="miter" points="527.17,503.8 527.17,481.8 533.27,481.8 533.27,537.4"/>
<text x="530.52" y="483.50" font-size="12.3" font-weight="bold" fill="#111" text-anchor="middle" >**</text>
<rect x="540.08" y="517.10" width="4.40" height="57.30" fill="#808080" stroke="none" stroke-width="0"/>
<rect x="546.08" y="538.87" width="4.40" height="35.53" fill="#bcd9f7" stroke="none" stroke-width="0"/>
<line x1="542.28" y1="512.96" x2="542.28" y2="521.24" stroke="#111" stroke-width="0.9" />
<line x1="540.78" y1="512.96" x2="543.78" y2="512.96" stroke="#111" stroke-width="0.9" />
<line x1="540.78" y1="521.24" x2="543.78" y2="521.24" stroke="#111" stroke-width="0.9" />
<circle cx="541.21" cy="511.60" r="0.95" fill="#111"/>
<circle cx="541.13" cy="515.40" r="0.95" fill="#111"/>
<circle cx="542.77" cy="519.20" r="0.95" fill="#111"/>
<circle cx="542.09" cy="523.00" r="0.95" fill="#111"/>
<line x1="548.28" y1="531.93" x2="548.28" y2="545.82" stroke="#72b6f2" stroke-width="0.9" />
<line x1="546.78" y1="531.93" x2="549.78" y2="531.93" stroke="#72b6f2" stroke-width="0.9" />
<line x1="546.78" y1="545.82" x2="549.78" y2="545.82" stroke="#72b6f2" stroke-width="0.9" />
<circle cx="547.17" cy="528.30" r="0.95" fill="#4aa3f5"/>
<circle cx="549.42" cy="533.20" r="0.95" fill="#4aa3f5"/>
<circle cx="548.63" cy="538.10" r="0.95" fill="#4aa3f5"/>
<circle cx="549.06" cy="543.00" r="0.95" fill="#4aa3f5"/>
<line x1="545.28" y1="574.40" x2="545.28" y2="578.30" stroke="#000" stroke-width="1.1" />
<text x="0.00" y="0.00" font-size="6.6" font-weight="bold" fill="#000" text-anchor="end" transform="translate(547.48,584.00) rotate(-45)">L-Methionine</text>
<polyline fill="none" stroke="#2a2a2a" stroke-width="1.1" stroke-linejoin="miter" points="542.18,509.6 542.18,462.7 548.28,462.7 548.28,467.8"/>
<text x="545.53" y="464.40" font-size="12.3" font-weight="bold" fill="#111" text-anchor="middle" >**</text>
<rect x="555.09" y="517.10" width="4.40" height="57.30" fill="#808080" stroke="none" stroke-width="0"/>
<rect x="561.09" y="541.17" width="4.40" height="33.23" fill="#bcd9f7" stroke="none" stroke-width="0"/>
<line x1="557.29" y1="512.42" x2="557.29" y2="521.78" stroke="#111" stroke-width="0.9" />
<line x1="555.79" y1="512.42" x2="558.79" y2="512.42" stroke="#111" stroke-width="0.9" />
<line x1="555.79" y1="521.78" x2="558.79" y2="521.78" stroke="#111" stroke-width="0.9" />
<circle cx="556.21" cy="510.30" r="0.95" fill="#111"/>
<circle cx="558.22" cy="514.13" r="0.95" fill="#111"/>
<circle cx="556.16" cy="517.97" r="0.95" fill="#111"/>
<circle cx="558.23" cy="521.80" r="0.95" fill="#111"/>
<line x1="563.29" y1="535.63" x2="563.29" y2="546.71" stroke="#72b6f2" stroke-width="0.9" />
<line x1="561.79" y1="535.63" x2="564.79" y2="535.63" stroke="#72b6f2" stroke-width="0.9" />
<line x1="561.79" y1="546.71" x2="564.79" y2="546.71" stroke="#72b6f2" stroke-width="0.9" />
<circle cx="563.17" cy="541.80" r="0.95" fill="#4aa3f5"/>
<circle cx="562.87" cy="544.33" r="0.95" fill="#4aa3f5"/>
<circle cx="563.43" cy="546.87" r="0.95" fill="#4aa3f5"/>
<circle cx="564.40" cy="549.40" r="0.95" fill="#4aa3f5"/>
<line x1="560.29" y1="574.40" x2="560.29" y2="578.30" stroke="#000" stroke-width="1.1" />
<text x="0.00" y="0.00" font-size="6.6" font-weight="bold" fill="#000" text-anchor="end" transform="translate(562.49,584.00) rotate(-45)">L-Phenylalanine</text>
<polyline fill="none" stroke="#2a2a2a" stroke-width="1.1" stroke-linejoin="miter" points="557.19,503.8 557.19,481.8 563.29,481.8 563.29,539.3"/>
<text x="560.54" y="483.50" font-size="12.3" font-weight="bold" fill="#111" text-anchor="middle" >***</text>
<rect x="570.10" y="517.10" width="4.40" height="57.30" fill="#808080" stroke="none" stroke-width="0"/>
<rect x="576.10" y="541.17" width="4.40" height="33.23" fill="#bcd9f7" stroke="none" stroke-width="0"/>
<line x1="572.30" y1="509.48" x2="572.30" y2="524.72" stroke="#111" stroke-width="0.9" />
<line x1="570.80" y1="509.48" x2="573.80" y2="509.48" stroke="#111" stroke-width="0.9" />
<line x1="570.80" y1="524.72" x2="573.80" y2="524.72" stroke="#111" stroke-width="0.9" />
<circle cx="571.70" cy="507.70" r="0.95" fill="#111"/>
<circle cx="571.34" cy="514.73" r="0.95" fill="#111"/>
<circle cx="572.37" cy="521.77" r="0.95" fill="#111"/>
<circle cx="571.62" cy="528.80" r="0.95" fill="#111"/>
<line x1="578.30" y1="537.55" x2="578.30" y2="544.79" stroke="#72b6f2" stroke-width="0.9" />
<line x1="576.80" y1="537.55" x2="579.80" y2="537.55" stroke="#72b6f2" stroke-width="0.9" />
<line x1="576.80" y1="544.79" x2="579.80" y2="544.79" stroke="#72b6f2" stroke-width="0.9" />
<circle cx="577.28" cy="536.60" r="0.95" fill="#4aa3f5"/>
<circle cx="577.42" cy="539.80" r="0.95" fill="#4aa3f5"/>
<circle cx="577.13" cy="543.00" r="0.95" fill="#4aa3f5"/>
<circle cx="577.52" cy="546.20" r="0.95" fill="#4aa3f5"/>
<line x1="575.30" y1="574.40" x2="575.30" y2="578.30" stroke="#000" stroke-width="1.1" />
<text x="0.00" y="0.00" font-size="6.6" font-weight="bold" fill="#000" text-anchor="end" transform="translate(577.50,584.00) rotate(-45)">L-Proline</text>
<polyline fill="none" stroke="#2a2a2a" stroke-width="1.1" stroke-linejoin="miter" points="572.20,467.9 572.20,462.7 578.30,462.7 578.30,530.9"/>
<text x="575.55" y="464.40" font-size="12.3" font-weight="bold" fill="#111" text-anchor="middle" >**</text>
<rect x="585.11" y="517.10" width="4.40" height="57.30" fill="#808080" stroke="none" stroke-width="0"/>
<rect x="591.11" y="522.26" width="4.40" height="52.14" fill="#bcd9f7" stroke="none" stroke-width="0"/>
<line x1="587.31" y1="513.98" x2="587.31" y2="520.22" stroke="#111" stroke-width="0.9" />
<line x1="585.81" y1="513.98" x2="588.81" y2="513.98" stroke="#111" stroke-width="0.9" />
<line x1="585.81" y1="520.22" x2="588.81" y2="520.22" stroke="#111" stroke-width="0.9" />
<circle cx="586.82" cy="512.90" r="0.95" fill="#111"/>
<circle cx="586.80" cy="515.20" r="0.95" fill="#111"/>
<circle cx="587.98" cy="517.50" r="0.95" fill="#111"/>
<circle cx="586.76" cy="519.80" r="0.95" fill="#111"/>
<line x1="593.31" y1="519.23" x2="593.31" y2="525.28" stroke="#72b6f2" stroke-width="0.9" />
<line x1="591.81" y1="519.23" x2="594.81" y2="519.23" stroke="#72b6f2" stroke-width="0.9" />
<line x1="591.81" y1="525.28" x2="594.81" y2="525.28" stroke="#72b6f2" stroke-width="0.9" />
<circle cx="593.31" cy="521.20" r="0.95" fill="#4aa3f5"/>
<circle cx="592.47" cy="522.90" r="0.95" fill="#4aa3f5"/>
<circle cx="592.91" cy="524.60" r="0.95" fill="#4aa3f5"/>
<circle cx="592.06" cy="526.30" r="0.95" fill="#4aa3f5"/>
<line x1="590.31" y1="574.40" x2="590.31" y2="578.30" stroke="#000" stroke-width="1.1" />
<text x="0.00" y="0.00" font-size="6.6" font-weight="bold" fill="#000" text-anchor="end" transform="translate(592.51,584.00) rotate(-45)">L-Methionine</text>
<rect x="600.12" y="517.10" width="4.40" height="57.30" fill="#808080" stroke="none" stroke-width="0"/>
<rect x="606.12" y="534.29" width="4.40" height="40.11" fill="#bcd9f7" stroke="none" stroke-width="0"/>
<line x1="602.32" y1="515.10" x2="602.32" y2="519.10" stroke="#111" stroke-width="0.9" />
<line x1="600.82" y1="515.10" x2="603.82" y2="515.10" stroke="#111" stroke-width="0.9" />
<line x1="600.82" y1="519.10" x2="603.82" y2="519.10" stroke="#111" stroke-width="0.9" />
<circle cx="601.67" cy="515.40" r="0.95" fill="#111"/>
<circle cx="601.06" cy="516.67" r="0.95" fill="#111"/>
<circle cx="602.93" cy="517.93" r="0.95" fill="#111"/>
<circle cx="602.45" cy="519.20" r="0.95" fill="#111"/>
<line x1="608.32" y1="531.16" x2="608.32" y2="537.42" stroke="#72b6f2" stroke-width="0.9" />
<line x1="606.82" y1="531.16" x2="609.82" y2="531.16" stroke="#72b6f2" stroke-width="0.9" />
<line x1="606.82" y1="537.42" x2="609.82" y2="537.42" stroke="#72b6f2" stroke-width="0.9" />
<circle cx="607.51" cy="530.80" r="0.95" fill="#4aa3f5"/>
<circle cx="608.25" cy="533.37" r="0.95" fill="#4aa3f5"/>
<circle cx="609.45" cy="535.93" r="0.95" fill="#4aa3f5"/>
<circle cx="607.30" cy="538.50" r="0.95" fill="#4aa3f5"/>
<line x1="605.32" y1="574.40" x2="605.32" y2="578.30" stroke="#000" stroke-width="1.1" />
<text x="0.00" y="0.00" font-size="6.6" font-weight="bold" fill="#000" text-anchor="end" transform="translate(607.52,584.00) rotate(-45)">L-Serine</text>
<polyline fill="none" stroke="#2a2a2a" stroke-width="1.1" stroke-linejoin="miter" points="602.22,509.6 602.22,481.8 608.32,481.8 608.32,531.6"/>
<text x="605.57" y="483.50" font-size="12.3" font-weight="bold" fill="#111" text-anchor="middle" >***</text>
<rect x="615.13" y="517.10" width="4.40" height="57.30" fill="#808080" stroke="none" stroke-width="0"/>
<rect x="621.13" y="546.32" width="4.40" height="28.08" fill="#bcd9f7" stroke="none" stroke-width="0"/>
<line x1="617.33" y1="499.40" x2="617.33" y2="534.80" stroke="#111" stroke-width="0.9" />
<line x1="615.83" y1="499.40" x2="618.83" y2="499.40" stroke="#111" stroke-width="0.9" />
<line x1="615.83" y1="534.80" x2="618.83" y2="534.80" stroke="#111" stroke-width="0.9" />
<circle cx="618.16" cy="498.00" r="0.95" fill="#111"/>
<circle cx="617.15" cy="513.87" r="0.95" fill="#111"/>
<circle cx="617.32" cy="529.73" r="0.95" fill="#111"/>
<circle cx="618.20" cy="545.60" r="0.95" fill="#111"/>
<line x1="623.33" y1="543.01" x2="623.33" y2="549.64" stroke="#72b6f2" stroke-width="0.9" />
<line x1="621.83" y1="543.01" x2="624.83" y2="543.01" stroke="#72b6f2" stroke-width="0.9" />
<line x1="621.83" y1="549.64" x2="624.83" y2="549.64" stroke="#72b6f2" stroke-width="0.9" />
<circle cx="623.05" cy="541.80" r="0.95" fill="#4aa3f5"/>
<circle cx="623.35" cy="544.33" r="0.95" fill="#4aa3f5"/>
<circle cx="623.82" cy="546.87" r="0.95" fill="#4aa3f5"/>
<circle cx="624.58" cy="549.40" r="0.95" fill="#4aa3f5"/>
<line x1="620.33" y1="574.40" x2="620.33" y2="578.30" stroke="#000" stroke-width="1.1" />
<text x="0.00" y="0.00" font-size="6.6" font-weight="bold" fill="#000" text-anchor="end" transform="translate(622.53,584.00) rotate(-45)">L-Tryptophan</text>
<rect x="630.14" y="517.10" width="4.40" height="57.30" fill="#808080" stroke="none" stroke-width="0"/>
<rect x="636.14" y="548.04" width="4.40" height="26.36" fill="#bcd9f7" stroke="none" stroke-width="0"/>
<line x1="632.34" y1="512.96" x2="632.34" y2="521.24" stroke="#111" stroke-width="0.9" />
<line x1="630.84" y1="512.96" x2="633.84" y2="512.96" stroke="#111" stroke-width="0.9" />
<line x1="630.84" y1="521.24" x2="633.84" y2="521.24" stroke="#111" stroke-width="0.9" />
<circle cx="631.93" cy="513.50" r="0.95" fill="#111"/>
<circle cx="633.20" cy="516.67" r="0.95" fill="#111"/>
<circle cx="632.88" cy="519.83" r="0.95" fill="#111"/>
<circle cx="632.69" cy="523.00" r="0.95" fill="#111"/>
<line x1="638.34" y1="544.84" x2="638.34" y2="551.25" stroke="#72b6f2" stroke-width="0.9" />
<line x1="636.84" y1="544.84" x2="639.84" y2="544.84" stroke="#72b6f2" stroke-width="0.9" />
<line x1="636.84" y1="551.25" x2="639.84" y2="551.25" stroke="#72b6f2" stroke-width="0.9" />
<circle cx="638.09" cy="543.70" r="0.95" fill="#4aa3f5"/>
<circle cx="637.94" cy="546.47" r="0.95" fill="#4aa3f5"/>
<circle cx="637.18" cy="549.23" r="0.95" fill="#4aa3f5"/>
<circle cx="637.38" cy="552.00" r="0.95" fill="#4aa3f5"/>
<line x1="635.34" y1="574.40" x2="635.34" y2="578.30" stroke="#000" stroke-width="1.1" />
<text x="0.00" y="0.00" font-size="6.6" font-weight="bold" fill="#000" text-anchor="end" transform="translate(637.54,584.00) rotate(-45)">L-Tyrosine</text>
<polyline fill="none" stroke="#2a2a2a" stroke-width="1.1" stroke-linejoin="miter" points="632.24,511.9 632.24,462.7 638.34,462.7 638.34,467.8"/>
<text x="635.59" y="464.40" font-size="12.3" font-weight="bold" fill="#111" text-anchor="middle" >****</text>
<rect x="645.15" y="517.10" width="4.40" height="57.30" fill="#808080" stroke="none" stroke-width="0"/>
<rect x="651.15" y="540.02" width="4.40" height="34.38" fill="#bcd9f7" stroke="none" stroke-width="0"/>
<line x1="647.35" y1="514.88" x2="647.35" y2="519.32" stroke="#111" stroke-width="0.9" />
<line x1="645.85" y1="514.88" x2="648.85" y2="514.88" stroke="#111" stroke-width="0.9" />
<line x1="645.85" y1="519.32" x2="648.85" y2="519.32" stroke="#111" stroke-width="0.9" />
<circle cx="646.23" cy="515.40" r="0.95" fill="#111"/>
<circle cx="647.98" cy="516.87" r="0.95" fill="#111"/>
<circle cx="646.71" cy="518.33" r="0.95" fill="#111"/>
<circle cx="646.47" cy="519.80" r="0.95" fill="#111"/>
<line x1="653.35" y1="537.63" x2="653.35" y2="542.41" stroke="#72b6f2" stroke-width="0.9" />
<line x1="651.85" y1="537.63" x2="654.85" y2="537.63" stroke="#72b6f2" stroke-width="0.9" />
<line x1="651.85" y1="542.41" x2="654.85" y2="542.41" stroke="#72b6f2" stroke-width="0.9" />
<circle cx="652.27" cy="541.10" r="0.95" fill="#4aa3f5"/>
<circle cx="654.24" cy="541.73" r="0.95" fill="#4aa3f5"/>
<circle cx="654.31" cy="542.37" r="0.95" fill="#4aa3f5"/>
<circle cx="653.79" cy="543.00" r="0.95" fill="#4aa3f5"/>
<line x1="650.35" y1="574.40" x2="650.35" y2="578.30" stroke="#000" stroke-width="1.1" />
<text x="0.00" y="0.00" font-size="6.6" font-weight="bold" fill="#000" text-anchor="end" transform="translate(652.55,584.00) rotate(-45)">L-Valine</text>
<polyline fill="none" stroke="#2a2a2a" stroke-width="1.1" stroke-linejoin="miter" points="647.25,509.6 647.25,481.8 653.35,481.8 653.35,534.7"/>
<text x="650.60" y="483.50" font-size="12.3" font-weight="bold" fill="#111" text-anchor="middle" >****</text>
<rect x="660.16" y="517.10" width="4.40" height="57.30" fill="#808080" stroke="none" stroke-width="0"/>
<rect x="666.16" y="521.11" width="4.40" height="53.29" fill="#bcd9f7" stroke="none" stroke-width="0"/>
<line x1="662.36" y1="511.70" x2="662.36" y2="522.50" stroke="#111" stroke-width="0.9" />
<line x1="660.86" y1="511.70" x2="663.86" y2="511.70" stroke="#111" stroke-width="0.9" />
<line x1="660.86" y1="522.50" x2="663.86" y2="522.50" stroke="#111" stroke-width="0.9" />
<circle cx="661.79" cy="509.10" r="0.95" fill="#111"/>
<circle cx="661.69" cy="513.07" r="0.95" fill="#111"/>
<circle cx="661.82" cy="517.03" r="0.95" fill="#111"/>
<circle cx="662.25" cy="521.00" r="0.95" fill="#111"/>
<line x1="668.36" y1="519.11" x2="668.36" y2="523.11" stroke="#72b6f2" stroke-width="0.9" />
<line x1="666.86" y1="519.11" x2="669.86" y2="519.11" stroke="#72b6f2" stroke-width="0.9" />
<line x1="666.86" y1="523.11" x2="669.86" y2="523.11" stroke="#72b6f2" stroke-width="0.9" />
<circle cx="667.47" cy="522.40" r="0.95" fill="#4aa3f5"/>
<circle cx="668.22" cy="522.63" r="0.95" fill="#4aa3f5"/>
<circle cx="667.74" cy="522.87" r="0.95" fill="#4aa3f5"/>
<circle cx="669.56" cy="523.10" r="0.95" fill="#4aa3f5"/>
<line x1="665.36" y1="574.40" x2="665.36" y2="578.30" stroke="#000" stroke-width="1.1" />
<text x="0.00" y="0.00" font-size="6.6" font-weight="bold" fill="#000" text-anchor="end" transform="translate(667.56,584.00) rotate(-45)">N-Acetyl-L-aspartic acid</text>
<rect x="675.17" y="517.10" width="4.40" height="57.30" fill="#808080" stroke="none" stroke-width="0"/>
<rect x="681.17" y="551.48" width="4.40" height="22.92" fill="#bcd9f7" stroke="none" stroke-width="0"/>
<line x1="677.37" y1="510.44" x2="677.37" y2="523.76" stroke="#111" stroke-width="0.9" />
<line x1="675.87" y1="510.44" x2="678.87" y2="510.44" stroke="#111" stroke-width="0.9" />
<line x1="675.87" y1="523.76" x2="678.87" y2="523.76" stroke="#111" stroke-width="0.9" />
<circle cx="678.60" cy="507.00" r="0.95" fill="#111"/>
<circle cx="677.49" cy="512.60" r="0.95" fill="#111"/>
<circle cx="676.71" cy="518.20" r="0.95" fill="#111"/>
<circle cx="678.58" cy="523.80" r="0.95" fill="#111"/>
<line x1="683.37" y1="538.21" x2="683.37" y2="564.75" stroke="#72b6f2" stroke-width="0.9" />
<line x1="681.87" y1="538.21" x2="684.87" y2="538.21" stroke="#72b6f2" stroke-width="0.9" />
<line x1="681.87" y1="564.75" x2="684.87" y2="564.75" stroke="#72b6f2" stroke-width="0.9" />
<circle cx="682.87" cy="537.00" r="0.95" fill="#4aa3f5"/>
<circle cx="683.00" cy="548.87" r="0.95" fill="#4aa3f5"/>
<circle cx="682.07" cy="560.73" r="0.95" fill="#4aa3f5"/>
<circle cx="683.06" cy="572.60" r="0.95" fill="#4aa3f5"/>
<line x1="680.37" y1="574.40" x2="680.37" y2="578.30" stroke="#000" stroke-width="1.1" />
<text x="0.00" y="0.00" font-size="6.6" font-weight="bold" fill="#000" text-anchor="end" transform="translate(682.57,584.00) rotate(-45)">Ornithine</text>
<polyline fill="none" stroke="#2a2a2a" stroke-width="1.1" stroke-linejoin="miter" points="677.27,502 677.27,481.5 683.37,481.5 683.37,535.7"/>
<text x="680.62" y="483.20" font-size="12.3" font-weight="bold" fill="#111" text-anchor="middle" >*</text>
<rect x="690.18" y="517.10" width="4.40" height="57.30" fill="#808080" stroke="none" stroke-width="0"/>
<rect x="696.18" y="519.97" width="4.40" height="54.43" fill="#bcd9f7" stroke="none" stroke-width="0"/>
<line x1="692.38" y1="502.40" x2="692.38" y2="531.80" stroke="#111" stroke-width="0.9" />
<line x1="690.88" y1="502.40" x2="693.88" y2="502.40" stroke="#111" stroke-width="0.9" />
<line x1="690.88" y1="531.80" x2="693.88" y2="531.80" stroke="#111" stroke-width="0.9" />
<circle cx="692.31" cy="498.70" r="0.95" fill="#111"/>
<circle cx="692.39" cy="512.67" r="0.95" fill="#111"/>
<circle cx="691.60" cy="526.63" r="0.95" fill="#111"/>
<circle cx="692.39" cy="540.60" r="0.95" fill="#111"/>
<line x1="698.38" y1="513.70" x2="698.38" y2="526.23" stroke="#72b6f2" stroke-width="0.9" />
<line x1="696.88" y1="513.70" x2="699.88" y2="513.70" stroke="#72b6f2" stroke-width="0.9" />
<line x1="696.88" y1="526.23" x2="699.88" y2="526.23" stroke="#72b6f2" stroke-width="0.9" />
<circle cx="697.09" cy="512.60" r="0.95" fill="#4aa3f5"/>
<circle cx="697.77" cy="518.20" r="0.95" fill="#4aa3f5"/>
<circle cx="697.31" cy="523.80" r="0.95" fill="#4aa3f5"/>
<circle cx="698.12" cy="529.40" r="0.95" fill="#4aa3f5"/>
<line x1="695.38" y1="574.40" x2="695.38" y2="578.30" stroke="#000" stroke-width="1.1" />
<text x="0.00" y="0.00" font-size="6.6" font-weight="bold" fill="#000" text-anchor="end" transform="translate(697.58,584.00) rotate(-45)">PhosphorylCholine</text>
<rect x="705.19" y="517.10" width="4.40" height="57.30" fill="#808080" stroke="none" stroke-width="0"/>
<rect x="711.19" y="532.00" width="4.40" height="42.40" fill="#bcd9f7" stroke="none" stroke-width="0"/>
<line x1="707.39" y1="515.10" x2="707.39" y2="519.10" stroke="#111" stroke-width="0.9" />
<line x1="705.89" y1="515.10" x2="708.89" y2="515.10" stroke="#111" stroke-width="0.9" />
<line x1="705.89" y1="519.10" x2="708.89" y2="519.10" stroke="#111" stroke-width="0.9" />
<circle cx="706.20" cy="515.40" r="0.95" fill="#111"/>
<circle cx="706.15" cy="516.60" r="0.95" fill="#111"/>
<circle cx="706.88" cy="517.80" r="0.95" fill="#111"/>
<circle cx="706.70" cy="519.00" r="0.95" fill="#111"/>
<line x1="713.39" y1="529.78" x2="713.39" y2="534.22" stroke="#72b6f2" stroke-width="0.9" />
<line x1="711.89" y1="529.78" x2="714.89" y2="529.78" stroke="#72b6f2" stroke-width="0.9" />
<line x1="711.89" y1="534.22" x2="714.89" y2="534.22" stroke="#72b6f2" stroke-width="0.9" />
<circle cx="713.61" cy="529.30" r="0.95" fill="#4aa3f5"/>
<circle cx="713.47" cy="529.80" r="0.95" fill="#4aa3f5"/>
<circle cx="714.04" cy="530.30" r="0.95" fill="#4aa3f5"/>
<circle cx="713.80" cy="530.80" r="0.95" fill="#4aa3f5"/>
<line x1="710.39" y1="574.40" x2="710.39" y2="578.30" stroke="#000" stroke-width="1.1" />
<text x="0.00" y="0.00" font-size="6.6" font-weight="bold" fill="#000" text-anchor="end" transform="translate(712.59,584.00) rotate(-45)">PhosphorylEthanolamine</text>
<polyline fill="none" stroke="#2a2a2a" stroke-width="1.1" stroke-linejoin="miter" points="707.29,508.6 707.29,481.5 713.39,481.5 713.39,528.1"/>
<text x="710.64" y="483.20" font-size="12.3" font-weight="bold" fill="#111" text-anchor="middle" >***</text>
<rect x="720.20" y="517.10" width="4.40" height="57.30" fill="#808080" stroke="none" stroke-width="0"/>
<rect x="726.20" y="520.54" width="4.40" height="53.86" fill="#bcd9f7" stroke="none" stroke-width="0"/>
<line x1="722.40" y1="513.74" x2="722.40" y2="520.46" stroke="#111" stroke-width="0.9" />
<line x1="720.90" y1="513.74" x2="723.90" y2="513.74" stroke="#111" stroke-width="0.9" />
<line x1="720.90" y1="520.46" x2="723.90" y2="520.46" stroke="#111" stroke-width="0.9" />
<circle cx="722.96" cy="513.30" r="0.95" fill="#111"/>
<circle cx="723.39" cy="516.10" r="0.95" fill="#111"/>
<circle cx="722.11" cy="518.90" r="0.95" fill="#111"/>
<circle cx="721.95" cy="521.70" r="0.95" fill="#111"/>
<line x1="728.40" y1="512.66" x2="728.40" y2="528.42" stroke="#72b6f2" stroke-width="0.9" />
<line x1="726.90" y1="512.66" x2="729.90" y2="512.66" stroke="#72b6f2" stroke-width="0.9" />
<line x1="726.90" y1="528.42" x2="729.90" y2="528.42" stroke="#72b6f2" stroke-width="0.9" />
<circle cx="729.66" cy="508.40" r="0.95" fill="#4aa3f5"/>
<circle cx="727.49" cy="515.87" r="0.95" fill="#4aa3f5"/>
<circle cx="728.98" cy="523.33" r="0.95" fill="#4aa3f5"/>
<circle cx="728.77" cy="530.80" r="0.95" fill="#4aa3f5"/>
<line x1="725.40" y1="574.40" x2="725.40" y2="578.30" stroke="#000" stroke-width="1.1" />
<text x="0.00" y="0.00" font-size="6.6" font-weight="bold" fill="#000" text-anchor="end" transform="translate(727.60,584.00) rotate(-45)">Sarcosine</text>
<line x1="417.90" y1="459.20" x2="417.90" y2="575.00" stroke="#000" stroke-width="1.3" />
<line x1="414.10" y1="574.40" x2="417.90" y2="574.40" stroke="#000" stroke-width="1.1" />
<text x="412.90" y="577.00" font-size="7.2" font-weight="bold" fill="#222" text-anchor="end" >0.0</text>
<line x1="414.10" y1="545.75" x2="417.90" y2="545.75" stroke="#000" stroke-width="1.1" />
<text x="412.90" y="548.35" font-size="7.2" font-weight="bold" fill="#222" text-anchor="end" >0.5</text>
<line x1="414.10" y1="517.10" x2="417.90" y2="517.10" stroke="#000" stroke-width="1.1" />
<text x="412.90" y="519.70" font-size="7.2" font-weight="bold" fill="#222" text-anchor="end" >1.0</text>
<line x1="414.10" y1="488.45" x2="417.90" y2="488.45" stroke="#000" stroke-width="1.1" />
<text x="412.90" y="491.05" font-size="7.2" font-weight="bold" fill="#222" text-anchor="end" >1.5</text>
<line x1="414.10" y1="459.80" x2="417.90" y2="459.80" stroke="#000" stroke-width="1.1" />
<text x="412.90" y="462.40" font-size="7.2" font-weight="bold" fill="#222" text-anchor="end" >2.0</text>
<line x1="417.30" y1="574.40" x2="732.30" y2="574.40" stroke="#000" stroke-width="1.3" />
</svg></body></html>
